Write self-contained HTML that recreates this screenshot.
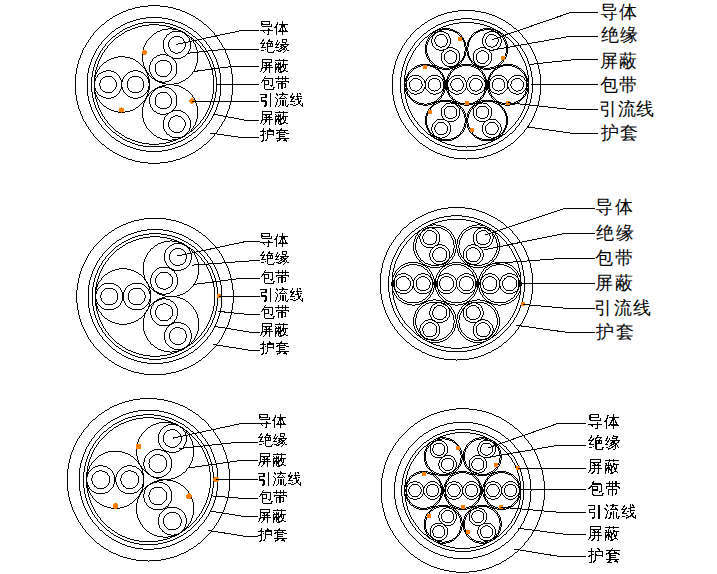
<!DOCTYPE html>
<html><head><meta charset="utf-8"><style>
html,body{margin:0;padding:0;background:#fff;width:717px;height:574px;overflow:hidden}
svg{position:absolute;left:0;top:0}
.t{position:absolute;font-family:"Liberation Sans",sans-serif;line-height:20px;white-space:nowrap;color:#000}
.b{filter:url(#crisp)}

</style></head><body>
<svg width="717" height="574" viewBox="0 0 717 574">
<defs><filter id="crisp" x="0" y="0" width="100%" height="100%"><feComponentTransfer><feFuncA type="discrete" tableValues="0 0 0 0 0 0 0 0 0 1 1 1 1 1 1 1 1 1 1 1"/></feComponentTransfer></filter></defs>
<g fill="none" stroke="#000" stroke-width="1" shape-rendering="crispEdges">
<path fill="none" stroke="#000" stroke-width="1" d="M148 5.5h12m-20 1h8m12 0h8m-33 1h5m28 0h5m-41 1h3m38 0h3m-48 1h4m44 0h4m-54 1h2m52 0h2m276 0h17m-352 1h3m56 0h3m267 0h6m17 0h6m-360 1h2m62 0h2m260 0h5m29 0h5m-367 1h2m66 0h2m255 0h3m39 0h3m-372 1h2m70 0h2m250 0h3m45 0h3m-377 1h2m74 0h2m245 0h3m51 0h3m-382 1h2m78 0h2m241 0h2m57 0h2m-385 1h1m33 0h16m33 0h1m238 0h2m61 0h2m-389 1h2m28 0h6m16 0h6m28 0h2m234 0h2m27 0h11m27 0h2m-392 1h1m26 0h4m28 0h4m26 0h1m231 0h2m22 0h7m11 0h7m22 0h2m-396 1h2m24 0h3m36 0h3m24 0h2m227 0h2m19 0h5m25 0h5m19 0h2m-399 1h1m23 0h3m42 0h3m23 0h1m225 0h1m18 0h3m35 0h3m18 0h1m-401 1h1m21 0h3m13 0h22m13 0h3m21 0h1m222 0h2m16 0h3m13 0h15m13 0h3m16 0h2m-404 1h1m20 0h2m11 0h5m22 0h5m11 0h2m20 0h1m220 0h1m16 0h2m10 0h6m15 0h6m10 0h2m16 0h1m-407 1h2m19 0h2m10 0h3m11 0h10m11 0h3m10 0h2m19 0h2m216 0h2m14 0h3m8 0h4m27 0h4m8 0h3m14 0h2m-410 1h1m19 0h2m9 0h3m7 0h7m10 0h7m7 0h3m9 0h2m19 0h1m214 0h1m14 0h2m8 0h3m35 0h3m8 0h2m14 0h1m-412 1h1m19 0h1m9 0h2m6 0h4m24 0h4m6 0h2m9 0h1m19 0h1m212 0h1m14 0h1m7 0h3m41 0h3m7 0h1m14 0h1m-414 1h1m18 0h2m7 0h3m5 0h3m32 0h3m5 0h3m7 0h2m18 0h1m210 0h1m13 0h2m6 0h2m47 0h2m6 0h2m13 0h1m-416 1h1m17 0h2m7 0h2m5 0h3m33 0h4m1 0h3m5 0h2m7 0h2m17 0h1m207 0h2m12 0h2m6 0h2m1 0h8m33 0h8m1 0h2m6 0h2m12 0h2m-419 1h1m17 0h1m7 0h2m5 0h2m30 0h6m4 0h6m5 0h2m7 0h1m17 0h1m205 0h1m13 0h1m6 0h12m1 0h3m27 0h3m1 0h12m6 0h1m13 0h1m-421 1h1m17 0h1m7 0h1m4 0h3m30 0h2m16 0h3m4 0h1m7 0h1m17 0h1m203 0h1m12 0h2m5 0h3m1 0h3m7 0h6m23 0h6m7 0h3m1 0h3m5 0h2m12 0h1m-423 1h1m16 0h2m6 0h2m3 0h2m30 0h3m12 0h11m3 0h2m6 0h2m16 0h1m201 0h1m12 0h1m5 0h3m1 0h7m9 0h4m19 0h4m9 0h7m1 0h3m5 0h1m12 0h1m-425 1h1m16 0h1m7 0h1m4 0h1m31 0h1m13 0h2m10 0h3m3 0h1m7 0h1m16 0h1m199 0h1m12 0h1m5 0h6m6 0h2m9 0h4m15 0h4m9 0h2m6 0h6m5 0h1m12 0h1m-427 1h1m16 0h1m6 0h2m3 0h2m30 0h2m13 0h1m14 0h2m3 0h2m6 0h1m16 0h1m197 0h1m11 0h2m4 0h3m1 0h2m10 0h2m9 0h1m1 0h1m13 0h1m1 0h1m9 0h2m10 0h2m1 0h3m4 0h2m11 0h1m-428 1h1m15 0h1m6 0h1m4 0h1m31 0h1m13 0h2m16 0h2m4 0h1m6 0h1m15 0h1m196 0h1m11 0h1m5 0h1m1 0h1m1 0h2m4 0h5m4 0h1m9 0h1m1 0h1m11 0h1m1 0h1m9 0h1m4 0h5m4 0h2m1 0h1m1 0h1m5 0h1m11 0h1m-430 1h1m15 0h1m6 0h1m3 0h2m31 0h1m13 0h1m19 0h3m3 0h1m6 0h1m15 0h1m194 0h1m11 0h1m5 0h1m1 0h1m1 0h2m3 0h2m5 0h1m3 0h1m10 0h1m1 0h1m9 0h1m1 0h1m10 0h1m3 0h1m5 0h2m3 0h2m1 0h1m1 0h1m5 0h1m11 0h1m-432 1h1m15 0h1m5 0h2m3 0h1m32 0h1m14 0h1m7 0h6m7 0h1m1 0h1m3 0h2m5 0h1m15 0h1m193 0h1m10 0h1m5 0h1m1 0h1m1 0h2m3 0h1m8 0h1m3 0h1m10 0h2m9 0h2m10 0h1m3 0h1m8 0h1m3 0h2m1 0h1m1 0h1m5 0h1m10 0h1m-433 1h1m15 0h1m5 0h1m3 0h2m32 0h1m14 0h1m6 0h2m6 0h2m6 0h1m1 0h2m3 0h1m5 0h1m15 0h1m191 0h1m10 0h1m4 0h2m1 0h1m1 0h1m1 0h1m2 0h1m10 0h1m2 0h1m11 0h2m7 0h2m11 0h1m2 0h1m10 0h1m2 0h1m1 0h1m1 0h1m1 0h2m4 0h1m10 0h1m-434 1h1m14 0h1m5 0h1m3 0h1m33 0h1m14 0h1m6 0h1m10 0h1m6 0h1m1 0h2m3 0h1m5 0h1m14 0h1m190 0h1m10 0h1m4 0h1m3 0h2m2 0h1m2 0h1m10 0h1m3 0h1m11 0h2m5 0h2m11 0h1m3 0h1m10 0h1m2 0h1m2 0h2m3 0h1m4 0h1m10 0h1m-436 1h1m14 0h1m5 0h1m3 0h1m33 0h1m15 0h1m5 0h1m12 0h1m5 0h1m1 0h1m1 0h1m3 0h1m5 0h1m14 0h1m188 0h1m10 0h1m4 0h1m3 0h1m1 0h1m1 0h1m2 0h1m12 0h1m2 0h1m11 0h2m5 0h2m11 0h1m2 0h1m12 0h1m2 0h1m1 0h1m1 0h1m3 0h1m4 0h1m10 0h1m-438 1h1m14 0h1m5 0h1m3 0h1m33 0h1m15 0h1m5 0h1m13 0h1m5 0h1m2 0h1m1 0h1m3 0h1m5 0h1m14 0h1m186 0h1m10 0h1m4 0h1m4 0h2m2 0h1m2 0h1m12 0h1m2 0h1m12 0h2m3 0h2m12 0h1m2 0h1m12 0h1m2 0h1m2 0h2m4 0h1m4 0h1m10 0h1m-439 1h1m13 0h1m5 0h1m3 0h1m33 0h1m16 0h1m5 0h1m14 0h1m5 0h1m2 0h1m1 0h1m3 0h1m5 0h1m13 0h1m186 0h1m9 0h1m4 0h1m4 0h1m1 0h1m2 0h1m2 0h1m12 0h1m2 0h1m12 0h2m3 0h2m12 0h1m2 0h1m12 0h1m2 0h1m2 0h1m1 0h1m4 0h1m4 0h1m9 0h1m-440 1h1m13 0h1m5 0h1m3 0h1m34 0h1m16 0h1m4 0h1m15 0h1m5 0h1m2 0h1m2 0h1m3 0h1m5 0h1m13 0h1m184 0h1m9 0h1m4 0h1m5 0h2m3 0h1m3 0h1m11 0h1m2 0h1m13 0h2m1 0h2m13 0h1m2 0h1m11 0h1m3 0h1m3 0h2m5 0h1m4 0h1m9 0h1m-442 1h1m14 0h1m4 0h1m3 0h1m34 0h1m17 0h1m4 0h1m16 0h1m4 0h1m3 0h1m2 0h1m3 0h1m4 0h1m14 0h1m182 0h1m9 0h1m4 0h1m6 0h2m4 0h1m2 0h1m10 0h1m3 0h1m13 0h2m1 0h2m13 0h1m3 0h1m10 0h1m2 0h1m4 0h2m6 0h1m4 0h1m9 0h1m-443 1h1m13 0h1m4 0h1m3 0h1m35 0h1m17 0h1m4 0h1m16 0h1m4 0h1m4 0h1m2 0h1m3 0h1m4 0h1m13 0h1m182 0h1m9 0h1m4 0h1m5 0h1m1 0h1m4 0h1m3 0h1m9 0h1m2 0h1m14 0h2m1 0h2m14 0h1m2 0h1m9 0h1m3 0h1m4 0h1m1 0h1m5 0h1m4 0h1m9 0h1m-444 1h1m13 0h1m5 0h1m2 0h1m35 0h1m18 0h1m4 0h1m16 0h1m4 0h1m4 0h1m3 0h1m2 0h1m5 0h1m13 0h1m180 0h1m9 0h1m4 0h1m6 0h2m5 0h1m3 0h2m7 0h1m3 0h1m14 0h2m1 0h2m14 0h1m3 0h1m7 0h2m3 0h1m5 0h2m6 0h1m4 0h1m9 0h1m-445 1h1m12 0h1m5 0h1m2 0h1m36 0h1m18 0h1m4 0h1m16 0h1m4 0h1m4 0h1m4 0h1m2 0h1m5 0h1m12 0h1m179 0h1m9 0h1m4 0h1m7 0h2m6 0h1m4 0h2m2 0h3m3 0h1m15 0h1m1 0h1m1 0h1m15 0h1m3 0h3m2 0h2m4 0h1m6 0h2m7 0h1m4 0h1m9 0h1m-447 1h1m13 0h1m4 0h1m3 0h1m35 0h1m19 0h1m5 0h1m14 0h1m5 0h1m5 0h1m3 0h1m3 0h1m4 0h1m13 0h1m178 0h1m9 0h1m3 0h1m8 0h2m7 0h1m5 0h2m5 0h6m12 0h3m12 0h6m5 0h2m5 0h1m7 0h2m8 0h1m3 0h1m9 0h1m-448 1h1m13 0h1m4 0h1m3 0h1m36 0h1m19 0h1m5 0h1m14 0h1m5 0h1m5 0h1m4 0h1m3 0h1m4 0h1m13 0h1m176 0h1m9 0h1m3 0h1m9 0h2m8 0h1m10 0h2m5 0h2m10 0h3m10 0h2m5 0h2m10 0h1m8 0h2m9 0h1m3 0h1m9 0h1m-449 1h1m12 0h1m5 0h1m2 0h1m37 0h1m20 0h1m5 0h1m12 0h1m5 0h1m6 0h1m5 0h1m2 0h1m5 0h1m12 0h1m176 0h1m8 0h1m4 0h1m9 0h2m9 0h3m4 0h3m9 0h2m8 0h3m8 0h2m9 0h3m4 0h3m9 0h2m9 0h1m4 0h1m8 0h1m-450 1h1m13 0h1m4 0h1m2 0h1m38 0h1m20 0h1m5 0h1m11 0h1m6 0h1m7 0h1m5 0h1m2 0h1m4 0h1m13 0h1m174 0h1m9 0h1m3 0h1m10 0h2m12 0h5m5 0h3m5 0h1m7 0h3m7 0h1m5 0h3m5 0h5m12 0h2m10 0h1m3 0h1m9 0h1m-451 1h1m12 0h1m4 0h1m3 0h1m37 0h1m21 0h1m6 0h2m8 0h1m6 0h1m8 0h1m5 0h1m3 0h1m4 0h1m12 0h1m174 0h1m8 0h1m3 0h1m11 0h2m16 0h1m3 0h2m3 0h2m4 0h1m5 0h1m1 0h1m1 0h1m5 0h1m4 0h2m3 0h2m3 0h1m16 0h2m11 0h1m3 0h1m8 0h1m-451 1h1m12 0h1m4 0h1m2 0h1m38 0h1m22 0h1m7 0h2m3 0h3m7 0h1m8 0h1m6 0h1m2 0h1m4 0h1m12 0h1m173 0h1m8 0h1m4 0h1m11 0h2m15 0h1m3 0h1m7 0h1m3 0h1m5 0h2m1 0h2m5 0h1m3 0h1m7 0h1m3 0h1m15 0h2m11 0h1m4 0h1m8 0h1m-453 1h1m12 0h1m4 0h1m2 0h1m39 0h1m23 0h1m8 0h3m9 0h1m9 0h1m7 0h1m2 0h1m4 0h1m12 0h1m172 0h1m8 0h1m3 0h1m12 0h1m1 0h1m13 0h1m3 0h1m9 0h1m3 0h1m4 0h2m1 0h2m4 0h1m3 0h1m9 0h1m3 0h1m13 0h1m1 0h1m12 0h1m3 0h1m8 0h1m-453 1h1m12 0h1m4 0h1m2 0h1m39 0h1m17 0h6m1 0h1m18 0h1m10 0h1m7 0h1m2 0h1m4 0h1m12 0h1m171 0h1m8 0h1m4 0h1m13 0h2m13 0h1m2 0h1m11 0h1m2 0h1m4 0h2m1 0h2m4 0h1m2 0h1m11 0h1m2 0h1m13 0h2m13 0h1m4 0h1m8 0h1m-455 1h1m12 0h1m4 0h1m2 0h1m40 0h1m14 0h3m6 0h3m16 0h1m11 0h1m8 0h1m2 0h1m4 0h1m12 0h1m170 0h1m8 0h1m3 0h1m14 0h2m13 0h1m2 0h1m11 0h1m2 0h1m4 0h2m1 0h2m4 0h1m2 0h1m11 0h1m2 0h1m13 0h2m14 0h1m3 0h1m8 0h1m-455 1h1m12 0h1m4 0h1m2 0h1m16 0h7m17 0h1m13 0h1m12 0h2m12 0h2m12 0h1m8 0h1m2 0h1m4 0h1m12 0h1m169 0h1m8 0h1m4 0h1m14 0h1m1 0h1m12 0h1m2 0h1m11 0h1m2 0h1m3 0h2m3 0h2m3 0h1m2 0h1m11 0h1m2 0h1m12 0h1m1 0h1m14 0h1m4 0h1m8 0h1m-456 1h1m11 0h1m4 0h1m2 0h1m13 0h4m7 0h5m12 0h1m11 0h2m15 0h2m8 0h2m14 0h1m9 0h1m2 0h1m4 0h1m11 0h1m169 0h1m8 0h1m3 0h1m16 0h2m12 0h1m2 0h1m11 0h1m2 0h1m3 0h2m3 0h2m3 0h1m2 0h1m11 0h1m2 0h1m12 0h2m16 0h1m3 0h1m8 0h1m-457 1h1m12 0h1m4 0h1m2 0h1m10 0h3m16 0h3m9 0h1m10 0h1m18 0h9m16 0h1m9 0h1m2 0h1m4 0h1m12 0h1m168 0h1m7 0h1m4 0h1m16 0h1m1 0h1m11 0h1m2 0h1m11 0h1m2 0h1m2 0h2m5 0h2m2 0h1m2 0h1m11 0h1m2 0h1m11 0h1m1 0h1m16 0h1m4 0h1m7 0h1m-457 1h1m11 0h1m4 0h1m2 0h1m9 0h2m22 0h2m7 0h1m9 0h1m20 0h1m23 0h1m10 0h1m2 0h1m4 0h1m11 0h1m167 0h1m8 0h1m3 0h1m18 0h2m11 0h1m2 0h1m11 0h1m2 0h1m2 0h2m5 0h2m2 0h1m2 0h1m11 0h1m2 0h1m11 0h2m18 0h1m3 0h1m8 0h1m-459 1h1m12 0h1m4 0h1m2 0h1m7 0h2m26 0h1m6 0h1m9 0h1m7 0h7m7 0h1m22 0h1m10 0h1m2 0h1m4 0h1m12 0h1m166 0h1m8 0h1m3 0h1m19 0h2m10 0h1m3 0h1m9 0h1m3 0h1m1 0h2m7 0h2m1 0h1m3 0h1m9 0h1m3 0h1m10 0h2m19 0h1m3 0h1m8 0h1m-459 1h1m12 0h1m3 0h1m2 0h1m7 0h1m29 0h2m4 0h1m8 0h1m6 0h2m7 0h2m6 0h1m21 0h1m11 0h1m2 0h1m3 0h1m12 0h1m165 0h1m8 0h1m3 0h1m20 0h1m1 0h1m10 0h1m3 0h1m8 0h1m2 0h1m1 0h2m9 0h2m1 0h1m2 0h1m8 0h1m3 0h1m10 0h1m1 0h1m20 0h1m3 0h1m8 0h1m-460 1h1m11 0h1m4 0h1m2 0h1m5 0h2m32 0h1m4 0h1m6 0h1m6 0h1m11 0h1m5 0h1m21 0h1m11 0h1m2 0h1m4 0h1m11 0h1m165 0h1m8 0h1m3 0h1m21 0h1m1 0h1m9 0h1m4 0h1m5 0h2m3 0h2m1 0h1m9 0h1m1 0h2m3 0h2m5 0h1m4 0h1m9 0h1m1 0h1m21 0h1m3 0h1m8 0h1m-460 1h1m11 0h1m4 0h1m2 0h1m4 0h1m35 0h1m3 0h1m6 0h1m5 0h1m13 0h1m5 0h1m19 0h1m12 0h1m2 0h1m4 0h1m11 0h1m165 0h1m8 0h1m2 0h1m23 0h1m1 0h1m9 0h1m4 0h5m4 0h2m1 0h1m11 0h1m1 0h2m4 0h5m4 0h1m9 0h1m1 0h1m23 0h1m2 0h1m8 0h1m-461 1h1m12 0h1m3 0h1m2 0h1m4 0h1m37 0h1m2 0h1m6 0h1m4 0h1m14 0h1m5 0h1m19 0h1m13 0h1m2 0h1m3 0h1m12 0h1m164 0h1m7 0h1m3 0h1m12 0h10m2 0h1m1 0h1m9 0h1m11 0h4m1 0h11m1 0h4m11 0h1m9 0h1m1 0h1m2 0h10m12 0h1m3 0h1m7 0h1m-461 1h1m11 0h1m4 0h1m2 0h1m3 0h1m39 0h1m1 0h1m5 0h1m5 0h1m15 0h1m4 0h1m19 0h1m13 0h1m2 0h1m4 0h1m11 0h1m163 0h1m8 0h1m3 0h1m9 0h3m1 0h16m8 0h2m7 0h7m1 0h9m1 0h7m7 0h2m8 0h16m1 0h3m9 0h1m3 0h1m8 0h1m-462 1h1m11 0h1m4 0h1m2 0h1m2 0h1m41 0h1m1 0h1m4 0h1m5 0h1m15 0h1m4 0h1m18 0h1m14 0h1m2 0h1m4 0h1m11 0h1m163 0h1m8 0h1m2 0h1m8 0h2m1 0h3m9 0h6m1 0h2m8 0h11m1 0h3m9 0h3m1 0h11m8 0h2m1 0h6m9 0h3m1 0h2m8 0h1m2 0h1m8 0h1m-462 1h1m11 0h1m3 0h1m2 0h1m2 0h1m43 0h2m4 0h1m5 0h1m15 0h1m4 0h1m18 0h1m15 0h1m2 0h1m3 0h1m11 0h1m163 0h1m7 0h1m3 0h1m7 0h1m1 0h2m15 0h5m1 0h4m6 0h7m1 0h2m15 0h2m1 0h7m6 0h4m1 0h5m15 0h2m1 0h1m7 0h1m3 0h1m7 0h1m-463 1h1m11 0h1m4 0h1m2 0h1m2 0h1m44 0h2m3 0h1m5 0h1m15 0h1m4 0h1m18 0h1m15 0h1m2 0h1m4 0h1m11 0h1m162 0h1m7 0h1m3 0h1m5 0h4m19 0h1m1 0h5m1 0h6m1 0h3m1 0h3m19 0h3m1 0h3m1 0h6m1 0h5m1 0h1m19 0h4m5 0h1m3 0h1m7 0h1m-463 1h1m11 0h1m4 0h1m2 0h1m1 0h1m46 0h1m3 0h1m5 0h1m15 0h1m4 0h1m17 0h1m16 0h1m2 0h1m4 0h1m11 0h1m161 0h1m8 0h1m3 0h1m4 0h1m1 0h1m22 0h3m3 0h8m2 0h3m23 0h3m2 0h8m3 0h3m22 0h1m1 0h1m4 0h1m3 0h1m8 0h1m-464 1h1m11 0h1m4 0h1m1 0h1m1 0h1m8 0h5m22 0h5m7 0h2m2 0h1m5 0h1m15 0h1m4 0h1m17 0h1m17 0h1m1 0h1m4 0h1m11 0h1m161 0h1m8 0h1m2 0h1m4 0h1m1 0h1m25 0h2m11 0h1m1 0h1m25 0h1m1 0h1m11 0h2m25 0h1m1 0h1m4 0h1m2 0h1m8 0h1m-464 1h1m11 0h1m3 0h1m2 0h1m1 0h1m5 0h3m5 0h3m16 0h3m5 0h3m5 0h1m2 0h1m5 0h1m14 0h1m5 0h1m16 0h1m18 0h1m2 0h1m3 0h1m11 0h1m161 0h1m7 0h1m3 0h1m3 0h1m1 0h1m27 0h2m9 0h1m1 0h1m27 0h1m1 0h1m9 0h2m27 0h1m1 0h1m3 0h1m3 0h1m7 0h1m-464 1h1m11 0h1m3 0h1m2 0h2m4 0h2m11 0h2m12 0h2m11 0h2m3 0h2m2 0h1m5 0h1m13 0h1m5 0h1m15 0h1m19 0h1m2 0h1m3 0h1m11 0h1m161 0h1m7 0h1m3 0h1m2 0h1m1 0h1m29 0h2m8 0h2m29 0h2m8 0h2m29 0h1m1 0h1m2 0h1m3 0h1m7 0h1m-464 1h1m10 0h1m4 0h1m2 0h2m2 0h2m15 0h1m10 0h1m15 0h1m3 0h2m1 0h1m5 0h1m12 0h1m6 0h1m15 0h1m19 0h1m2 0h1m4 0h1m10 0h1m161 0h1m7 0h1m3 0h1m2 0h2m30 0h1m1 0h1m6 0h2m31 0h2m6 0h1m1 0h1m30 0h2m2 0h1m3 0h1m7 0h1m-465 1h1m11 0h1m4 0h1m2 0h1m2 0h1m18 0h1m8 0h1m17 0h1m2 0h2m2 0h1m5 0h1m10 0h1m6 0h1m15 0h1m20 0h1m2 0h1m4 0h1m11 0h1m159 0h1m8 0h1m3 0h1m1 0h2m32 0h2m5 0h1m1 0h1m31 0h1m1 0h1m5 0h2m32 0h2m1 0h1m3 0h1m8 0h1m-466 1h1m11 0h1m4 0h1m1 0h2m1 0h1m20 0h1m6 0h1m19 0h1m1 0h1m1 0h1m1 0h1m6 0h2m7 0h1m7 0h1m14 0h1m22 0h1m1 0h1m4 0h1m11 0h1m159 0h1m8 0h1m2 0h1m2 0h2m3 0h7m12 0h7m4 0h2m4 0h2m4 0h7m11 0h7m4 0h2m4 0h2m4 0h7m12 0h7m3 0h2m2 0h1m2 0h1m8 0h1m-466 1h1m11 0h1m4 0h1m1 0h2m1 0h1m7 0h7m7 0h1m4 0h1m7 0h7m7 0h1m1 0h1m1 0h1m1 0h1m7 0h7m7 0h1m14 0h1m23 0h1m1 0h1m4 0h1m11 0h1m159 0h1m8 0h1m2 0h1m1 0h2m2 0h2m7 0h2m8 0h2m7 0h2m2 0h2m3 0h1m1 0h1m2 0h2m7 0h1m9 0h1m7 0h2m2 0h1m1 0h1m3 0h2m2 0h2m7 0h2m8 0h2m7 0h2m2 0h2m1 0h1m2 0h1m8 0h1m-466 1h1m11 0h1m3 0h1m2 0h1m1 0h1m6 0h2m7 0h1m6 0h1m3 0h1m6 0h2m7 0h2m6 0h2m2 0h1m1 0h1m19 0h1m14 0h1m24 0h1m2 0h1m3 0h1m11 0h1m159 0h1m7 0h1m3 0h1m1 0h2m1 0h1m11 0h1m6 0h1m11 0h1m2 0h2m2 0h2m2 0h1m10 0h2m5 0h2m10 0h1m2 0h2m2 0h2m2 0h1m11 0h1m6 0h1m11 0h1m1 0h2m1 0h1m3 0h1m7 0h1m-466 1h1m11 0h1m3 0h1m2 0h2m6 0h1m10 0h1m6 0h1m2 0h1m5 0h1m11 0h1m5 0h2m3 0h3m17 0h1m13 0h2m25 0h1m2 0h1m3 0h1m11 0h1m159 0h1m7 0h1m3 0h3m1 0h1m4 0h5m4 0h1m4 0h1m4 0h5m4 0h1m1 0h2m2 0h2m1 0h1m4 0h5m4 0h1m3 0h1m4 0h5m4 0h1m1 0h2m2 0h2m1 0h1m4 0h5m4 0h1m4 0h1m4 0h5m4 0h1m1 0h3m3 0h1m7 0h1m-466 1h1m11 0h1m3 0h1m2 0h2m5 0h1m12 0h1m5 0h1m1 0h1m5 0h1m13 0h1m5 0h2m4 0h2m15 0h1m13 0h1m27 0h1m2 0h1m3 0h1m11 0h1m159 0h1m7 0h1m3 0h3m1 0h1m3 0h1m5 0h2m3 0h1m2 0h1m3 0h2m5 0h2m3 0h3m1 0h2m1 0h1m3 0h2m5 0h1m3 0h1m3 0h1m3 0h1m5 0h2m3 0h1m1 0h2m1 0h3m3 0h2m5 0h2m3 0h1m2 0h1m3 0h2m5 0h1m3 0h1m1 0h3m3 0h1m7 0h1m-466 1h1m11 0h1m3 0h1m2 0h2m4 0h1m14 0h1m5 0h2m5 0h1m13 0h1m5 0h2m5 0h3m11 0h2m12 0h2m28 0h1m2 0h1m3 0h1m11 0h1m159 0h1m7 0h1m3 0h4m3 0h1m8 0h1m3 0h1m1 0h1m2 0h1m9 0h1m2 0h1m1 0h5m3 0h1m8 0h1m3 0h1m1 0h1m3 0h1m8 0h1m3 0h5m1 0h1m2 0h1m9 0h1m2 0h1m1 0h1m3 0h1m8 0h1m3 0h4m3 0h1m7 0h1m-466 1h1m11 0h1m3 0h1m2 0h1m5 0h1m14 0h1m5 0h2m4 0h1m15 0h1m4 0h2m7 0h5m3 0h4m12 0h2m30 0h1m2 0h1m3 0h1m11 0h1m159 0h1m7 0h1m3 0h3m3 0h1m10 0h1m2 0h2m3 0h1m9 0h1m3 0h6m2 0h1m10 0h1m2 0h1m1 0h1m2 0h1m10 0h1m2 0h6m3 0h1m9 0h1m3 0h2m2 0h1m10 0h1m3 0h3m3 0h1m7 0h1m-466 1h1m11 0h1m3 0h1m2 0h1m5 0h1m15 0h1m4 0h1m5 0h1m15 0h1m4 0h2m9 0h6m14 0h2m32 0h1m2 0h1m3 0h1m11 0h1m159 0h1m7 0h1m3 0h1m1 0h1m2 0h1m11 0h1m2 0h2m2 0h1m11 0h1m2 0h5m3 0h1m10 0h1m3 0h1m3 0h1m10 0h1m3 0h5m2 0h1m11 0h1m2 0h2m2 0h1m11 0h1m2 0h1m1 0h1m3 0h1m7 0h1m-466 1h1m11 0h1m3 0h1m2 0h1m4 0h1m16 0h1m4 0h1m5 0h1m15 0h1m5 0h1m12 0h4m8 0h5m34 0h1m2 0h1m3 0h1m11 0h1m159 0h1m7 0h1m3 0h3m2 0h1m11 0h1m3 0h1m2 0h1m11 0h1m2 0h5m2 0h1m12 0h1m2 0h1m2 0h1m12 0h1m2 0h5m2 0h1m11 0h1m2 0h1m3 0h1m11 0h1m2 0h3m3 0h1m7 0h1m-466 1h1m11 0h1m3 0h1m2 0h1m4 0h1m16 0h1m4 0h1m5 0h1m15 0h1m5 0h1m16 0h8m39 0h1m2 0h1m4 0h1m10 0h1m159 0h1m7 0h1m3 0h3m2 0h1m12 0h1m2 0h1m2 0h1m11 0h1m2 0h5m2 0h1m12 0h1m2 0h1m2 0h1m12 0h1m2 0h5m2 0h1m11 0h1m2 0h1m2 0h1m12 0h1m2 0h3m3 0h1m7 0h1m-466 1h1m11 0h1m3 0h1m2 0h1m4 0h1m16 0h1m4 0h1m5 0h1m15 0h1m5 0h1m12 0h4m8 0h5m34 0h1m2 0h1m3 0h1m11 0h1m159 0h1m7 0h1m3 0h3m2 0h1m12 0h1m2 0h1m2 0h1m11 0h1m2 0h5m2 0h1m12 0h1m2 0h1m2 0h1m12 0h1m2 0h5m2 0h1m11 0h1m2 0h1m2 0h1m12 0h1m2 0h3m3 0h1m7 0h1m-466 1h1m11 0h1m3 0h1m2 0h1m5 0h1m15 0h1m4 0h1m5 0h1m15 0h1m4 0h2m9 0h6m14 0h2m32 0h1m2 0h1m3 0h1m11 0h1m159 0h1m7 0h1m3 0h3m2 0h1m11 0h1m3 0h1m2 0h1m11 0h1m2 0h5m3 0h1m11 0h1m2 0h1m2 0h1m11 0h1m3 0h5m2 0h1m11 0h1m2 0h1m3 0h1m11 0h1m2 0h3m3 0h1m7 0h1m-466 1h1m11 0h1m3 0h1m2 0h1m5 0h1m14 0h1m5 0h2m4 0h1m15 0h1m4 0h2m7 0h5m3 0h4m12 0h2m30 0h1m2 0h1m3 0h1m11 0h1m159 0h1m7 0h1m3 0h1m1 0h1m3 0h1m10 0h1m2 0h2m2 0h1m11 0h1m2 0h6m2 0h1m10 0h1m3 0h1m3 0h1m10 0h1m2 0h6m2 0h1m11 0h1m2 0h2m2 0h1m10 0h1m3 0h1m1 0h1m3 0h1m7 0h1m-466 1h1m11 0h1m3 0h1m2 0h2m4 0h1m14 0h1m5 0h2m5 0h1m13 0h1m5 0h2m5 0h3m11 0h2m12 0h2m28 0h1m2 0h1m3 0h1m11 0h1m159 0h1m7 0h1m3 0h4m2 0h1m9 0h1m3 0h2m3 0h1m9 0h1m3 0h6m3 0h1m9 0h1m2 0h1m1 0h1m2 0h1m9 0h1m3 0h6m3 0h1m9 0h1m3 0h2m3 0h1m9 0h1m2 0h4m3 0h1m7 0h1m-466 1h1m11 0h1m3 0h1m2 0h2m5 0h1m12 0h1m5 0h1m1 0h1m5 0h1m13 0h1m5 0h2m4 0h2m15 0h1m13 0h1m27 0h1m2 0h1m3 0h1m11 0h1m159 0h1m7 0h1m3 0h4m3 0h1m7 0h1m3 0h1m2 0h1m3 0h1m7 0h1m3 0h2m1 0h4m3 0h2m7 0h1m3 0h1m1 0h1m3 0h1m7 0h2m3 0h4m1 0h2m3 0h1m7 0h1m3 0h1m2 0h1m3 0h1m7 0h1m3 0h4m3 0h1m7 0h1m-466 1h1m11 0h1m3 0h1m2 0h2m6 0h1m10 0h1m6 0h1m2 0h1m5 0h1m11 0h1m5 0h2m3 0h3m17 0h1m13 0h2m25 0h1m2 0h1m3 0h1m11 0h1m159 0h1m7 0h1m3 0h3m1 0h1m3 0h3m2 0h2m4 0h1m3 0h1m3 0h3m1 0h3m4 0h3m1 0h1m1 0h2m4 0h2m2 0h3m3 0h1m3 0h1m3 0h3m2 0h2m4 0h2m1 0h1m1 0h3m4 0h3m1 0h3m3 0h1m3 0h1m4 0h2m2 0h3m3 0h1m1 0h3m3 0h1m7 0h1m-466 1h1m11 0h1m3 0h1m2 0h1m1 0h1m6 0h2m7 0h1m6 0h1m3 0h1m6 0h2m7 0h2m6 0h2m2 0h1m1 0h1m19 0h1m14 0h1m24 0h1m2 0h1m3 0h1m11 0h1m159 0h1m7 0h1m3 0h2m1 0h1m1 0h1m5 0h2m5 0h1m5 0h1m5 0h1m6 0h1m1 0h2m2 0h2m1 0h1m5 0h2m5 0h1m5 0h1m5 0h2m5 0h1m1 0h2m2 0h2m1 0h1m6 0h1m5 0h1m5 0h1m5 0h2m5 0h1m1 0h1m1 0h2m3 0h1m7 0h1m-466 1h1m11 0h1m4 0h1m1 0h2m1 0h1m7 0h7m7 0h1m4 0h1m7 0h7m7 0h1m1 0h1m1 0h1m1 0h1m7 0h7m7 0h1m14 0h1m23 0h1m1 0h1m4 0h1m11 0h1m159 0h1m7 0h1m3 0h1m1 0h2m2 0h1m9 0h2m7 0h1m9 0h2m1 0h1m1 0h1m2 0h2m2 0h2m9 0h1m7 0h1m9 0h2m2 0h2m2 0h1m1 0h1m1 0h2m9 0h1m7 0h2m9 0h1m2 0h2m1 0h1m3 0h1m7 0h1m-466 1h1m11 0h1m4 0h1m1 0h2m1 0h1m20 0h1m6 0h1m19 0h1m1 0h1m1 0h1m1 0h1m6 0h2m7 0h1m7 0h1m14 0h1m22 0h1m1 0h1m4 0h1m11 0h1m159 0h1m8 0h1m2 0h1m1 0h2m3 0h3m3 0h3m10 0h3m3 0h3m3 0h2m4 0h2m3 0h2m4 0h3m9 0h3m4 0h2m3 0h2m4 0h2m3 0h3m3 0h3m10 0h3m3 0h3m3 0h2m1 0h1m2 0h1m8 0h1m-466 1h1m11 0h1m4 0h1m2 0h1m2 0h1m18 0h1m8 0h1m17 0h1m2 0h2m2 0h1m5 0h1m10 0h1m6 0h1m15 0h1m20 0h1m2 0h1m4 0h1m11 0h1m159 0h1m8 0h1m3 0h1m1 0h2m5 0h3m16 0h3m5 0h1m1 0h1m4 0h2m5 0h4m15 0h4m5 0h2m4 0h1m1 0h1m5 0h3m16 0h3m5 0h2m1 0h1m3 0h1m8 0h1m-465 1h1m10 0h1m4 0h1m2 0h2m2 0h2m15 0h1m10 0h1m15 0h1m3 0h2m1 0h1m5 0h1m12 0h1m6 0h1m15 0h1m19 0h1m2 0h1m4 0h1m10 0h1m161 0h1m7 0h1m3 0h1m1 0h1m1 0h1m31 0h2m6 0h2m31 0h2m6 0h2m31 0h1m1 0h1m1 0h1m3 0h1m7 0h1m-464 1h1m11 0h1m3 0h1m2 0h2m4 0h2m11 0h2m12 0h2m11 0h2m3 0h2m2 0h1m5 0h1m13 0h1m5 0h1m15 0h1m19 0h1m2 0h1m3 0h1m11 0h1m161 0h1m7 0h1m3 0h1m2 0h2m30 0h2m7 0h1m1 0h1m29 0h1m1 0h1m7 0h2m30 0h2m2 0h1m3 0h1m7 0h1m-464 1h1m11 0h1m3 0h1m2 0h1m1 0h1m5 0h3m5 0h3m16 0h3m5 0h3m5 0h1m2 0h1m5 0h1m14 0h1m5 0h1m16 0h1m18 0h1m2 0h1m3 0h1m11 0h1m161 0h1m7 0h1m3 0h1m3 0h2m28 0h1m1 0h1m8 0h1m1 0h1m27 0h1m1 0h1m8 0h1m1 0h1m28 0h2m3 0h1m3 0h1m7 0h1m-464 1h1m11 0h1m4 0h1m1 0h1m1 0h1m8 0h5m22 0h5m7 0h2m2 0h1m5 0h1m15 0h1m4 0h1m17 0h1m17 0h1m1 0h1m4 0h1m11 0h1m161 0h1m7 0h1m3 0h1m4 0h2m26 0h1m1 0h1m10 0h2m27 0h2m10 0h1m1 0h1m26 0h2m4 0h1m3 0h1m7 0h1m-464 1h1m11 0h1m4 0h1m2 0h1m1 0h1m46 0h1m3 0h1m5 0h1m15 0h1m4 0h1m17 0h1m16 0h1m2 0h1m4 0h1m11 0h1m161 0h1m8 0h1m3 0h1m4 0h2m24 0h1m1 0h1m12 0h3m23 0h3m12 0h1m1 0h1m24 0h2m4 0h1m3 0h1m8 0h1m-464 1h1m11 0h1m4 0h1m2 0h1m2 0h1m44 0h2m3 0h1m5 0h1m15 0h1m4 0h1m18 0h1m15 0h1m2 0h1m4 0h1m11 0h1m161 0h1m8 0h1m3 0h1m5 0h3m21 0h1m1 0h1m1 0h12m1 0h1m1 0h1m21 0h1m1 0h1m1 0h12m1 0h1m1 0h1m21 0h3m5 0h1m3 0h1m8 0h1m-463 1h1m11 0h1m3 0h1m2 0h1m2 0h1m43 0h2m4 0h1m5 0h1m15 0h1m4 0h1m18 0h1m15 0h1m2 0h1m3 0h1m11 0h1m163 0h1m7 0h1m3 0h1m6 0h1m1 0h2m17 0h17m1 0h6m17 0h6m1 0h17m17 0h2m1 0h1m6 0h1m3 0h1m7 0h1m-462 1h1m11 0h1m4 0h1m2 0h1m2 0h1m41 0h1m1 0h1m4 0h1m5 0h1m15 0h1m4 0h1m18 0h1m14 0h1m2 0h1m4 0h1m11 0h1m163 0h1m7 0h1m3 0h1m7 0h2m1 0h2m12 0h6m1 0h2m10 0h7m1 0h2m13 0h2m1 0h7m10 0h2m1 0h6m12 0h2m1 0h2m7 0h1m3 0h1m7 0h1m-462 1h1m11 0h1m4 0h1m2 0h1m3 0h1m39 0h1m1 0h1m5 0h1m5 0h1m15 0h1m4 0h1m19 0h1m13 0h1m2 0h1m4 0h1m11 0h1m163 0h1m8 0h1m3 0h1m8 0h2m1 0h5m3 0h4m1 0h3m1 0h2m8 0h4m1 0h14m3 0h14m1 0h4m8 0h2m1 0h3m1 0h4m3 0h5m1 0h2m8 0h1m3 0h1m8 0h1m-462 1h1m12 0h1m3 0h1m2 0h1m4 0h1m37 0h1m2 0h1m6 0h1m4 0h1m14 0h1m5 0h1m19 0h1m13 0h1m2 0h1m3 0h1m12 0h1m163 0h1m8 0h1m3 0h1m10 0h5m1 0h3m1 0h4m1 0h3m9 0h1m9 0h2m1 0h1m1 0h4m1 0h3m1 0h4m1 0h1m1 0h2m9 0h1m9 0h3m1 0h4m1 0h3m1 0h5m10 0h1m3 0h1m8 0h1m-461 1h1m11 0h1m4 0h1m2 0h1m4 0h1m35 0h1m3 0h1m6 0h1m5 0h1m13 0h1m5 0h1m19 0h1m12 0h1m2 0h1m4 0h1m11 0h1m165 0h1m7 0h1m3 0h1m15 0h5m4 0h2m10 0h1m11 0h4m4 0h5m4 0h4m11 0h1m10 0h2m4 0h5m15 0h1m3 0h1m7 0h1m-460 1h1m11 0h1m4 0h1m2 0h1m5 0h2m32 0h1m4 0h1m6 0h1m6 0h1m11 0h1m5 0h1m21 0h1m11 0h1m2 0h1m4 0h1m11 0h1m165 0h1m8 0h1m3 0h1m22 0h2m10 0h1m3 0h7m3 0h1m1 0h2m11 0h2m1 0h1m3 0h7m3 0h1m10 0h2m22 0h1m3 0h1m8 0h1m-460 1h1m12 0h1m3 0h1m2 0h1m7 0h1m29 0h2m4 0h1m8 0h1m6 0h2m7 0h2m6 0h1m21 0h1m11 0h1m2 0h1m3 0h1m12 0h1m165 0h1m8 0h1m3 0h1m21 0h2m10 0h1m3 0h1m7 0h1m3 0h1m1 0h2m9 0h2m1 0h1m3 0h1m7 0h1m3 0h1m10 0h2m21 0h1m3 0h1m8 0h1m-460 1h1m12 0h1m4 0h1m2 0h1m7 0h2m26 0h1m6 0h1m9 0h1m7 0h7m7 0h1m22 0h1m10 0h1m2 0h1m4 0h1m12 0h1m166 0h1m7 0h1m3 0h1m20 0h2m10 0h1m3 0h1m9 0h1m3 0h2m1 0h1m7 0h1m1 0h2m3 0h1m9 0h1m3 0h1m10 0h2m20 0h1m3 0h1m7 0h1m-458 1h1m11 0h1m4 0h1m2 0h1m9 0h2m22 0h2m7 0h1m9 0h1m20 0h1m23 0h1m10 0h1m2 0h1m4 0h1m11 0h1m167 0h1m8 0h1m3 0h1m18 0h1m1 0h1m10 0h1m2 0h1m11 0h1m2 0h1m1 0h1m1 0h1m5 0h1m1 0h1m1 0h1m2 0h1m11 0h1m2 0h1m10 0h1m1 0h1m18 0h1m3 0h1m8 0h1m-458 1h1m12 0h1m4 0h1m2 0h1m10 0h3m16 0h3m9 0h1m10 0h1m18 0h9m16 0h1m9 0h1m2 0h1m4 0h1m12 0h1m167 0h1m8 0h1m3 0h1m18 0h2m11 0h1m2 0h1m11 0h1m2 0h1m2 0h2m5 0h2m2 0h1m2 0h1m11 0h1m2 0h1m11 0h2m18 0h1m3 0h1m8 0h1m-457 1h1m11 0h1m4 0h1m2 0h1m13 0h4m7 0h5m12 0h1m11 0h2m15 0h2m8 0h2m14 0h1m9 0h1m2 0h1m4 0h1m11 0h1m169 0h1m8 0h1m3 0h1m16 0h2m12 0h1m2 0h1m11 0h1m2 0h1m2 0h1m1 0h1m3 0h1m1 0h1m2 0h1m2 0h1m11 0h1m2 0h1m12 0h2m16 0h1m3 0h1m8 0h1m-456 1h1m12 0h1m4 0h1m2 0h1m16 0h7m17 0h1m13 0h1m12 0h2m12 0h2m12 0h1m8 0h1m2 0h1m4 0h1m12 0h1m169 0h1m8 0h1m3 0h1m16 0h2m12 0h1m2 0h1m11 0h1m2 0h1m3 0h2m3 0h2m3 0h1m2 0h1m11 0h1m2 0h1m12 0h2m16 0h1m3 0h1m8 0h1m-456 1h1m12 0h1m4 0h1m2 0h1m40 0h1m14 0h3m6 0h3m16 0h1m11 0h1m8 0h1m2 0h1m4 0h1m12 0h1m170 0h1m8 0h1m3 0h1m14 0h2m13 0h1m2 0h1m11 0h1m2 0h1m3 0h1m1 0h1m1 0h1m1 0h1m3 0h1m2 0h1m11 0h1m2 0h1m13 0h2m14 0h1m3 0h1m8 0h1m-454 1h1m12 0h1m4 0h1m2 0h1m39 0h1m17 0h6m1 0h1m18 0h1m10 0h1m7 0h1m2 0h1m4 0h1m12 0h1m171 0h1m8 0h1m3 0h1m14 0h2m13 0h1m2 0h1m11 0h1m2 0h1m4 0h2m1 0h2m4 0h1m2 0h1m11 0h1m2 0h1m13 0h2m14 0h1m3 0h1m8 0h1m-454 1h1m12 0h1m4 0h1m2 0h1m39 0h1m23 0h1m8 0h3m9 0h1m9 0h1m7 0h1m2 0h1m4 0h1m12 0h1m171 0h1m9 0h1m3 0h1m13 0h2m13 0h1m3 0h1m10 0h1m2 0h1m4 0h2m1 0h2m4 0h1m2 0h1m10 0h1m3 0h1m13 0h2m13 0h1m3 0h1m9 0h1m-453 1h1m12 0h1m4 0h1m2 0h1m38 0h1m22 0h1m7 0h2m3 0h3m7 0h1m8 0h1m6 0h1m2 0h1m4 0h1m12 0h1m173 0h1m8 0h1m3 0h1m12 0h2m15 0h1m2 0h1m9 0h1m2 0h1m5 0h2m1 0h2m5 0h1m2 0h1m9 0h1m2 0h1m15 0h2m12 0h1m3 0h1m8 0h1m-452 1h1m12 0h1m4 0h1m3 0h1m37 0h1m21 0h1m6 0h2m8 0h1m6 0h1m8 0h1m5 0h1m3 0h1m4 0h1m12 0h1m173 0h1m9 0h1m3 0h1m11 0h2m15 0h1m3 0h2m5 0h2m3 0h1m5 0h1m1 0h1m1 0h1m5 0h1m3 0h2m5 0h2m3 0h1m15 0h2m11 0h1m3 0h1m9 0h1m-452 1h1m13 0h1m4 0h1m2 0h1m38 0h1m20 0h1m5 0h1m11 0h1m6 0h1m7 0h1m5 0h1m2 0h1m4 0h1m13 0h1m174 0h1m8 0h1m4 0h1m10 0h2m16 0h1m4 0h5m4 0h1m7 0h3m7 0h1m4 0h5m4 0h1m16 0h2m10 0h1m4 0h1m8 0h1m-450 1h1m12 0h1m5 0h1m2 0h1m37 0h1m20 0h1m5 0h1m12 0h1m5 0h1m6 0h1m5 0h1m2 0h1m5 0h1m12 0h1m175 0h1m9 0h1m3 0h1m10 0h2m10 0h8m11 0h1m8 0h3m8 0h1m11 0h8m10 0h2m10 0h1m3 0h1m9 0h1m-450 1h1m13 0h1m4 0h1m3 0h1m36 0h1m19 0h1m5 0h1m14 0h1m5 0h1m5 0h1m4 0h1m3 0h1m4 0h1m13 0h1m176 0h1m9 0h1m3 0h1m9 0h2m9 0h1m8 0h2m7 0h2m9 0h3m9 0h2m7 0h2m8 0h1m9 0h2m9 0h1m3 0h1m9 0h1m-448 1h1m13 0h1m4 0h1m3 0h1m35 0h1m19 0h1m5 0h1m14 0h1m5 0h1m5 0h1m3 0h1m3 0h1m4 0h1m13 0h1m177 0h1m9 0h1m4 0h1m8 0h2m8 0h1m11 0h7m11 0h3m11 0h7m11 0h1m8 0h2m8 0h1m4 0h1m9 0h1m-447 1h1m12 0h1m5 0h1m2 0h1m36 0h1m18 0h1m4 0h1m16 0h1m4 0h1m4 0h1m4 0h1m2 0h1m5 0h1m12 0h1m179 0h1m9 0h1m4 0h1m7 0h2m7 0h1m3 0h6m4 0h1m16 0h3m16 0h1m4 0h6m3 0h1m7 0h2m7 0h1m4 0h1m9 0h1m-446 1h1m13 0h1m5 0h1m2 0h1m35 0h1m18 0h1m4 0h1m16 0h1m4 0h1m4 0h1m3 0h1m2 0h1m5 0h1m13 0h1m180 0h1m9 0h1m3 0h1m7 0h2m6 0h1m3 0h1m6 0h1m4 0h1m14 0h1m1 0h1m1 0h1m14 0h1m4 0h1m6 0h1m3 0h1m6 0h2m7 0h1m3 0h1m9 0h1m-444 1h1m13 0h1m4 0h1m3 0h1m35 0h1m17 0h1m4 0h1m16 0h1m4 0h1m4 0h1m2 0h1m3 0h1m4 0h1m13 0h1m181 0h1m9 0h1m4 0h1m6 0h2m5 0h1m3 0h1m8 0h1m3 0h1m14 0h2m1 0h2m14 0h1m3 0h1m8 0h1m3 0h1m5 0h2m6 0h1m4 0h1m9 0h1m-444 1h1m14 0h1m4 0h1m3 0h1m34 0h1m17 0h1m4 0h1m16 0h1m4 0h1m3 0h1m2 0h1m3 0h1m4 0h1m14 0h1m182 0h1m9 0h1m4 0h1m6 0h2m4 0h1m2 0h1m10 0h1m3 0h1m13 0h2m1 0h2m13 0h1m3 0h1m10 0h1m2 0h1m4 0h2m6 0h1m4 0h1m9 0h1m-442 1h1m13 0h1m5 0h1m3 0h1m34 0h1m16 0h1m4 0h1m15 0h1m5 0h1m2 0h1m2 0h1m3 0h1m5 0h1m13 0h1m184 0h1m9 0h1m4 0h1m5 0h2m4 0h1m2 0h1m11 0h1m2 0h1m13 0h2m1 0h2m13 0h1m2 0h1m11 0h1m2 0h1m4 0h2m5 0h1m4 0h1m9 0h1m-440 1h1m13 0h1m5 0h1m3 0h1m33 0h1m16 0h1m5 0h1m14 0h1m5 0h1m2 0h1m1 0h1m3 0h1m5 0h1m13 0h1m185 0h1m10 0h1m4 0h1m4 0h2m3 0h1m2 0h1m12 0h1m2 0h1m12 0h1m1 0h1m1 0h1m1 0h1m12 0h1m2 0h1m12 0h1m2 0h1m3 0h2m4 0h1m4 0h1m10 0h1m-440 1h1m14 0h1m5 0h1m3 0h1m33 0h1m15 0h1m5 0h1m13 0h1m5 0h1m2 0h1m1 0h1m3 0h1m5 0h1m14 0h1m186 0h1m10 0h1m4 0h1m4 0h2m2 0h1m2 0h1m12 0h1m2 0h1m12 0h2m3 0h2m12 0h1m2 0h1m12 0h1m2 0h1m2 0h2m4 0h1m4 0h1m10 0h1m-438 1h1m14 0h1m5 0h1m3 0h1m33 0h1m15 0h1m5 0h1m12 0h1m5 0h1m1 0h1m1 0h1m3 0h1m5 0h1m14 0h1m188 0h1m9 0h1m5 0h1m3 0h2m2 0h1m2 0h1m12 0h1m2 0h1m11 0h1m1 0h1m3 0h1m1 0h1m11 0h1m2 0h1m12 0h1m2 0h1m2 0h2m3 0h1m5 0h1m9 0h1m-436 1h1m14 0h1m5 0h1m3 0h1m33 0h1m14 0h1m6 0h1m10 0h1m6 0h1m1 0h2m3 0h1m5 0h1m14 0h1m190 0h1m9 0h1m5 0h1m3 0h2m1 0h1m3 0h1m11 0h1m2 0h1m11 0h2m5 0h2m11 0h1m2 0h1m11 0h1m3 0h1m1 0h2m3 0h1m5 0h1m9 0h1m-435 1h1m15 0h1m5 0h1m3 0h2m32 0h1m14 0h1m6 0h2m6 0h2m6 0h1m1 0h2m3 0h1m5 0h1m15 0h1m190 0h1m10 0h1m5 0h1m2 0h2m2 0h1m2 0h1m10 0h1m3 0h1m10 0h1m1 0h1m5 0h1m1 0h1m10 0h1m3 0h1m10 0h1m2 0h1m2 0h2m2 0h1m5 0h1m10 0h1m-434 1h1m15 0h1m5 0h2m3 0h1m32 0h1m14 0h1m7 0h6m7 0h1m1 0h1m3 0h2m5 0h1m15 0h1m192 0h1m10 0h1m5 0h1m2 0h2m1 0h1m3 0h1m9 0h1m2 0h1m10 0h1m1 0h1m7 0h1m1 0h1m10 0h1m2 0h1m9 0h1m3 0h1m1 0h2m2 0h1m5 0h1m10 0h1m-432 1h1m15 0h1m6 0h1m3 0h2m31 0h1m13 0h1m19 0h3m3 0h1m6 0h1m15 0h1m194 0h1m10 0h2m4 0h1m2 0h2m1 0h1m3 0h1m6 0h2m3 0h1m10 0h2m9 0h2m10 0h1m3 0h2m6 0h1m3 0h1m1 0h2m2 0h1m4 0h2m10 0h1m-430 1h1m15 0h1m6 0h1m4 0h1m31 0h1m13 0h2m16 0h2m4 0h1m6 0h1m15 0h1m196 0h1m11 0h1m4 0h3m1 0h2m4 0h6m4 0h1m10 0h2m11 0h2m10 0h1m4 0h6m4 0h2m1 0h3m4 0h1m11 0h1m-429 1h1m16 0h1m6 0h2m3 0h2m30 0h2m13 0h1m14 0h2m3 0h2m6 0h1m16 0h1m197 0h1m11 0h1m5 0h5m12 0h1m9 0h3m13 0h3m9 0h1m12 0h5m5 0h1m11 0h1m-427 1h1m16 0h1m7 0h1m4 0h1m31 0h1m13 0h2m10 0h3m3 0h1m7 0h1m16 0h1m199 0h1m11 0h1m5 0h6m8 0h2m9 0h1m1 0h1m15 0h1m1 0h1m9 0h2m8 0h6m5 0h1m11 0h1m-425 1h1m16 0h2m6 0h2m3 0h2m30 0h3m12 0h11m3 0h2m6 0h2m16 0h1m201 0h1m11 0h2m5 0h2m1 0h4m2 0h3m9 0h4m17 0h4m9 0h3m2 0h4m1 0h2m5 0h2m11 0h1m-423 1h1m17 0h1m7 0h1m4 0h3m30 0h2m16 0h3m4 0h1m7 0h1m17 0h1m203 0h1m12 0h1m5 0h3m1 0h4m9 0h5m21 0h5m9 0h4m1 0h3m5 0h1m12 0h1m-421 1h1m17 0h1m7 0h2m5 0h2m30 0h6m4 0h6m5 0h2m7 0h1m17 0h1m205 0h1m12 0h1m6 0h15m1 0h2m25 0h2m1 0h15m6 0h1m12 0h1m-419 1h1m17 0h2m7 0h2m5 0h3m33 0h4m1 0h3m5 0h2m7 0h2m17 0h1m207 0h1m12 0h2m6 0h14m29 0h14m6 0h2m12 0h1m-417 1h1m18 0h2m7 0h3m5 0h3m32 0h3m5 0h3m7 0h2m18 0h1m209 0h1m13 0h2m6 0h2m49 0h2m6 0h2m13 0h1m-415 1h1m19 0h1m9 0h2m6 0h4m24 0h4m6 0h2m9 0h1m19 0h1m211 0h1m14 0h1m7 0h3m43 0h3m7 0h1m14 0h1m-413 1h1m19 0h2m9 0h3m7 0h7m10 0h7m7 0h3m9 0h2m19 0h1m213 0h2m13 0h2m8 0h2m39 0h2m8 0h2m13 0h2m-411 1h2m19 0h2m10 0h3m11 0h10m11 0h3m10 0h2m19 0h2m216 0h1m14 0h3m7 0h4m31 0h4m7 0h3m14 0h1m-407 1h1m20 0h2m11 0h5m22 0h5m11 0h2m20 0h1m219 0h2m15 0h2m9 0h4m23 0h4m9 0h2m15 0h2m-405 1h1m21 0h3m13 0h22m13 0h3m21 0h1m222 0h1m16 0h3m10 0h11m1 0h11m10 0h3m16 0h1m-402 1h1m23 0h3m42 0h3m23 0h1m224 0h2m17 0h3m18 0h1m18 0h3m17 0h2m-400 1h2m24 0h3m36 0h3m24 0h2m227 0h1m19 0h3m31 0h3m19 0h1m-396 1h1m26 0h4m28 0h4m26 0h1m230 0h2m20 0h6m19 0h6m20 0h2m-394 1h2m28 0h6m16 0h6m28 0h2m233 0h2m24 0h19m24 0h2m-390 1h1m33 0h16m33 0h1m237 0h2m63 0h2m-387 1h2m78 0h2m240 0h2m59 0h2m-383 1h2m74 0h2m244 0h3m53 0h3m-379 1h2m70 0h2m249 0h2m49 0h2m-374 1h2m66 0h2m253 0h4m41 0h4m-370 1h2m62 0h2m259 0h3m35 0h3m-364 1h3m56 0h3m264 0h5m25 0h5m-358 1h2m52 0h2m272 0h12m1 0h12m-351 1h4m44 0h4m286 0h1m-335 1h3m38 0h3m-41 1h5m28 0h5m-33 1h8m12 0h8m-20 1h12m288 44h17m-24 1h7m17 0h7m-35 1h4m31 0h4m-42 1h3m39 0h3m-48 1h3m45 0h3m-54 1h3m51 0h3m-59 1h2m57 0h2m-63 1h2m61 0h2m-67 1h2m27 0h11m27 0h2m-71 1h2m22 0h7m11 0h7m22 0h2m-75 1h2m19 0h5m25 0h5m19 0h2m-351 1h22m250 0h2m18 0h3m35 0h3m18 0h2m-358 1h5m22 0h5m244 0h1m17 0h3m11 0h19m11 0h3m17 0h1m-364 1h5m32 0h5m237 0h2m15 0h3m9 0h5m19 0h5m9 0h3m15 0h2m-369 1h3m42 0h3m233 0h1m15 0h2m8 0h4m29 0h4m8 0h2m15 0h1m-373 1h3m48 0h3m228 0h2m14 0h2m7 0h3m37 0h3m7 0h2m14 0h2m-377 1h2m54 0h2m225 0h1m14 0h2m6 0h3m43 0h3m6 0h2m14 0h1m-381 1h3m58 0h3m221 0h1m13 0h2m6 0h2m1 0h3m41 0h3m1 0h2m6 0h2m13 0h1m-384 1h2m64 0h2m218 0h1m13 0h1m6 0h5m3 0h5m31 0h5m3 0h5m6 0h1m13 0h1m-387 1h2m68 0h2m215 0h1m12 0h2m5 0h2m13 0h3m25 0h3m13 0h2m5 0h2m12 0h1m-390 1h2m72 0h2m211 0h2m12 0h1m5 0h2m1 0h14m3 0h2m21 0h2m3 0h14m1 0h2m5 0h1m12 0h2m-394 1h2m76 0h2m208 0h1m12 0h2m4 0h2m1 0h4m3 0h3m6 0h2m3 0h1m19 0h1m3 0h2m6 0h3m3 0h4m1 0h2m4 0h2m12 0h1m-396 1h1m32 0h16m32 0h1m206 0h1m12 0h1m5 0h1m1 0h3m9 0h1m7 0h2m2 0h2m15 0h2m2 0h2m7 0h1m9 0h3m1 0h1m5 0h1m12 0h1m-399 1h2m27 0h6m16 0h6m27 0h2m203 0h1m12 0h1m4 0h2m1 0h3m2 0h5m4 0h1m8 0h2m2 0h1m13 0h1m2 0h2m8 0h1m4 0h5m2 0h3m1 0h2m4 0h1m12 0h1m-401 1h1m25 0h4m28 0h4m25 0h1m201 0h1m11 0h2m4 0h2m2 0h1m3 0h1m5 0h2m3 0h1m9 0h1m2 0h1m11 0h1m2 0h1m9 0h1m3 0h2m5 0h1m3 0h1m2 0h2m4 0h2m11 0h1m-404 1h2m23 0h3m36 0h3m23 0h2m199 0h1m10 0h1m5 0h2m2 0h1m3 0h1m8 0h1m3 0h1m9 0h1m2 0h1m9 0h1m2 0h1m9 0h1m3 0h1m8 0h1m3 0h1m2 0h2m5 0h1m10 0h1m-405 1h1m22 0h3m15 0h12m15 0h3m22 0h1m197 0h1m10 0h1m4 0h3m2 0h1m3 0h1m10 0h1m2 0h1m10 0h1m1 0h1m9 0h1m1 0h1m10 0h1m2 0h1m10 0h1m3 0h1m2 0h3m4 0h1m10 0h1m-407 1h1m20 0h3m12 0h6m12 0h6m12 0h3m20 0h1m195 0h1m10 0h1m4 0h1m2 0h1m1 0h2m2 0h1m12 0h1m2 0h1m10 0h1m1 0h1m7 0h1m1 0h1m10 0h1m2 0h1m12 0h1m2 0h2m1 0h1m2 0h1m4 0h1m10 0h1m-410 1h2m19 0h2m10 0h5m24 0h5m10 0h2m19 0h2m192 0h1m10 0h1m4 0h1m2 0h1m1 0h1m1 0h1m2 0h1m12 0h1m2 0h1m10 0h1m2 0h1m5 0h1m2 0h1m10 0h1m2 0h1m12 0h1m2 0h1m1 0h1m1 0h1m2 0h1m4 0h1m10 0h1m-412 1h1m19 0h2m9 0h3m12 0h10m12 0h3m9 0h2m19 0h1m190 0h1m10 0h1m4 0h1m2 0h1m2 0h2m2 0h1m13 0h1m2 0h1m11 0h1m1 0h1m5 0h1m1 0h1m11 0h1m2 0h1m13 0h1m2 0h2m2 0h1m2 0h1m4 0h1m10 0h1m-414 1h1m18 0h2m8 0h3m8 0h7m10 0h7m8 0h3m8 0h2m18 0h1m188 0h1m10 0h1m4 0h1m3 0h1m1 0h1m1 0h1m2 0h1m13 0h1m2 0h1m11 0h1m2 0h1m3 0h1m2 0h1m11 0h1m2 0h1m13 0h1m2 0h1m1 0h1m1 0h1m3 0h1m4 0h1m10 0h1m-416 1h1m18 0h1m8 0h2m7 0h4m24 0h4m7 0h2m8 0h1m18 0h1m187 0h1m9 0h1m4 0h1m4 0h1m1 0h1m1 0h1m2 0h1m13 0h1m2 0h1m12 0h1m1 0h1m3 0h1m1 0h1m12 0h1m2 0h1m13 0h1m2 0h1m1 0h1m1 0h1m4 0h1m4 0h1m9 0h1m-417 1h1m17 0h2m7 0h2m6 0h3m32 0h3m6 0h2m7 0h2m17 0h1m185 0h1m9 0h1m4 0h1m4 0h1m1 0h1m3 0h1m2 0h1m12 0h1m2 0h1m12 0h1m2 0h1m1 0h1m2 0h1m12 0h1m2 0h1m12 0h1m2 0h1m3 0h1m1 0h1m4 0h1m4 0h1m9 0h1m-419 1h1m16 0h2m7 0h2m5 0h3m34 0h2m2 0h3m5 0h2m7 0h2m16 0h1m183 0h1m10 0h1m3 0h1m5 0h1m1 0h1m3 0h1m2 0h1m12 0h1m2 0h1m13 0h1m1 0h1m1 0h1m1 0h1m13 0h1m2 0h1m12 0h1m2 0h1m3 0h1m1 0h1m5 0h1m3 0h1m10 0h1m-421 1h1m16 0h1m7 0h2m5 0h2m31 0h6m2 0h7m5 0h2m7 0h1m16 0h1m182 0h1m9 0h1m3 0h1m6 0h1m1 0h1m3 0h1m2 0h1m11 0h1m3 0h1m13 0h1m1 0h1m1 0h1m1 0h1m13 0h1m3 0h1m11 0h1m2 0h1m3 0h1m1 0h1m6 0h1m3 0h1m9 0h1m-422 1h1m16 0h1m6 0h2m4 0h3m30 0h3m14 0h4m4 0h2m6 0h1m16 0h1m180 0h1m9 0h1m3 0h1m6 0h1m2 0h1m4 0h1m2 0h1m10 0h1m2 0h1m14 0h1m1 0h1m1 0h1m1 0h1m14 0h1m2 0h1m10 0h1m2 0h1m4 0h1m2 0h1m6 0h1m3 0h1m9 0h1m-424 1h1m15 0h2m6 0h1m4 0h2m30 0h3m13 0h10m4 0h1m6 0h2m15 0h1m178 0h1m9 0h1m4 0h1m6 0h1m1 0h1m5 0h1m3 0h2m6 0h2m3 0h1m14 0h1m1 0h1m1 0h1m1 0h1m14 0h1m3 0h2m6 0h2m3 0h1m5 0h1m1 0h1m6 0h1m4 0h1m9 0h1m-426 1h1m15 0h1m6 0h2m4 0h1m31 0h1m14 0h2m8 0h3m4 0h2m6 0h1m15 0h1m177 0h1m8 0h1m4 0h1m7 0h1m1 0h1m6 0h1m4 0h6m4 0h5m11 0h1m2 0h1m2 0h1m11 0h5m4 0h6m4 0h1m6 0h1m1 0h1m7 0h1m4 0h1m8 0h1m-427 1h1m15 0h1m6 0h1m4 0h2m30 0h2m13 0h2m12 0h3m4 0h1m6 0h1m15 0h1m175 0h1m9 0h1m3 0h1m8 0h1m1 0h1m7 0h1m11 0h3m4 0h3m9 0h1m1 0h1m1 0h1m9 0h3m4 0h3m11 0h1m7 0h1m1 0h1m8 0h1m3 0h1m9 0h1m-429 1h1m15 0h1m5 0h2m4 0h1m31 0h1m14 0h1m16 0h2m4 0h2m5 0h1m15 0h1m173 0h1m9 0h1m3 0h1m9 0h1m1 0h1m8 0h2m8 0h1m10 0h1m8 0h1m1 0h1m1 0h1m8 0h1m10 0h1m8 0h2m8 0h1m1 0h1m9 0h1m3 0h1m9 0h1m-431 1h1m15 0h1m5 0h1m4 0h2m31 0h1m14 0h1m18 0h3m4 0h1m5 0h1m15 0h1m172 0h1m8 0h1m4 0h1m9 0h1m1 0h1m10 0h8m4 0h4m4 0h1m7 0h1m1 0h1m1 0h1m7 0h1m4 0h4m4 0h8m10 0h1m1 0h1m9 0h1m4 0h1m8 0h1m-431 1h1m14 0h1m5 0h1m4 0h1m31 0h2m14 0h1m7 0h6m7 0h3m4 0h1m5 0h1m14 0h1m171 0h1m9 0h1m3 0h1m10 0h1m1 0h1m16 0h1m3 0h2m4 0h2m3 0h1m5 0h1m2 0h1m2 0h1m5 0h1m3 0h2m4 0h2m3 0h1m16 0h1m1 0h1m10 0h1m3 0h1m9 0h1m-433 1h1m14 0h1m5 0h1m3 0h2m31 0h1m15 0h1m6 0h2m6 0h2m6 0h1m1 0h2m3 0h1m5 0h1m14 0h1m170 0h1m8 0h1m3 0h1m11 0h1m1 0h1m15 0h1m3 0h1m8 0h1m3 0h1m4 0h1m1 0h1m1 0h1m1 0h1m4 0h1m3 0h1m8 0h1m3 0h1m15 0h1m1 0h1m11 0h1m3 0h1m8 0h1m-434 1h1m14 0h1m5 0h1m3 0h1m33 0h1m14 0h1m6 0h1m10 0h1m5 0h1m1 0h1m1 0h1m3 0h1m5 0h1m14 0h1m168 0h1m9 0h1m3 0h1m11 0h1m2 0h1m13 0h1m3 0h1m10 0h1m2 0h1m4 0h1m1 0h1m1 0h1m1 0h1m4 0h1m2 0h1m10 0h1m3 0h1m13 0h1m2 0h1m11 0h1m3 0h1m9 0h1m-436 1h1m14 0h1m5 0h1m3 0h1m33 0h1m15 0h1m5 0h1m12 0h1m5 0h1m1 0h1m1 0h1m3 0h1m5 0h1m14 0h1m167 0h1m8 0h1m3 0h1m13 0h1m1 0h1m13 0h1m2 0h1m12 0h1m2 0h1m3 0h1m1 0h1m1 0h1m1 0h1m3 0h1m2 0h1m12 0h1m2 0h1m13 0h1m1 0h1m13 0h1m3 0h1m8 0h1m-436 1h1m13 0h1m5 0h1m3 0h1m33 0h1m16 0h1m4 0h1m14 0h1m4 0h1m2 0h1m1 0h1m3 0h1m5 0h1m13 0h1m166 0h1m9 0h1m3 0h1m13 0h1m1 0h1m13 0h1m2 0h1m12 0h1m2 0h1m3 0h1m1 0h1m1 0h1m1 0h1m3 0h1m2 0h1m12 0h1m2 0h1m13 0h1m1 0h1m13 0h1m3 0h1m9 0h1m-438 1h1m13 0h1m5 0h1m3 0h1m33 0h1m16 0h1m5 0h1m14 0h1m4 0h1m3 0h1m1 0h1m3 0h1m5 0h1m13 0h1m165 0h1m8 0h1m3 0h1m14 0h1m2 0h1m11 0h1m2 0h1m13 0h1m2 0h1m2 0h1m1 0h1m3 0h1m1 0h1m2 0h1m2 0h1m13 0h1m2 0h1m11 0h1m2 0h1m14 0h1m3 0h1m8 0h1m-439 1h1m13 0h1m5 0h1m3 0h1m34 0h1m16 0h1m4 0h1m15 0h1m5 0h1m2 0h1m2 0h1m3 0h1m5 0h1m13 0h1m164 0h1m8 0h1m3 0h1m15 0h1m1 0h1m11 0h1m2 0h1m13 0h1m2 0h1m2 0h1m1 0h1m3 0h1m1 0h1m2 0h1m2 0h1m13 0h1m2 0h1m11 0h1m1 0h1m15 0h1m3 0h1m8 0h1m-439 1h1m13 0h1m4 0h1m3 0h1m34 0h1m17 0h1m4 0h1m16 0h1m4 0h1m3 0h1m2 0h1m3 0h1m4 0h1m13 0h1m163 0h1m8 0h1m3 0h1m16 0h1m2 0h1m10 0h1m2 0h1m13 0h1m2 0h1m1 0h1m2 0h1m3 0h1m2 0h1m1 0h1m2 0h1m13 0h1m2 0h1m10 0h1m2 0h1m16 0h1m3 0h1m8 0h1m-441 1h1m13 0h1m4 0h1m3 0h1m35 0h1m17 0h1m4 0h1m16 0h1m4 0h1m3 0h1m3 0h1m3 0h1m4 0h1m13 0h1m162 0h1m8 0h1m3 0h1m17 0h1m1 0h1m10 0h1m2 0h1m13 0h1m2 0h1m1 0h1m1 0h1m5 0h1m1 0h1m1 0h1m2 0h1m13 0h1m2 0h1m10 0h1m1 0h1m17 0h1m3 0h1m8 0h1m-441 1h1m12 0h1m4 0h1m3 0h1m35 0h1m18 0h1m4 0h1m16 0h1m4 0h1m4 0h1m3 0h1m3 0h1m4 0h1m12 0h1m161 0h1m8 0h1m3 0h1m18 0h1m2 0h1m10 0h1m2 0h1m12 0h1m2 0h2m1 0h1m7 0h1m1 0h2m2 0h1m12 0h1m2 0h1m10 0h1m2 0h1m18 0h1m3 0h1m8 0h1m-443 1h1m12 0h1m5 0h1m2 0h1m36 0h1m18 0h1m4 0h1m16 0h1m4 0h1m4 0h1m4 0h1m2 0h1m5 0h1m12 0h1m160 0h1m8 0h1m3 0h1m19 0h1m2 0h1m9 0h1m2 0h1m11 0h1m3 0h1m2 0h1m7 0h1m2 0h1m3 0h1m11 0h1m2 0h1m9 0h1m2 0h1m19 0h1m3 0h1m8 0h1m-443 1h1m12 0h1m4 0h1m3 0h1m35 0h1m19 0h1m4 0h1m15 0h1m5 0h1m5 0h1m3 0h1m3 0h1m4 0h1m12 0h1m160 0h1m7 0h1m3 0h1m21 0h1m1 0h1m9 0h1m3 0h1m10 0h1m2 0h1m2 0h1m9 0h1m2 0h1m2 0h1m10 0h1m3 0h1m9 0h1m1 0h1m21 0h1m3 0h1m7 0h1m-444 1h1m12 0h1m4 0h1m3 0h1m36 0h1m19 0h1m5 0h1m14 0h1m4 0h1m6 0h1m4 0h1m3 0h1m4 0h1m12 0h1m158 0h1m8 0h1m3 0h1m22 0h1m1 0h2m8 0h1m3 0h1m7 0h2m2 0h2m1 0h1m11 0h1m1 0h2m2 0h2m7 0h1m3 0h1m8 0h2m1 0h1m22 0h1m3 0h1m8 0h1m-445 1h1m11 0h1m4 0h1m3 0h1m37 0h1m20 0h1m4 0h1m14 0h1m4 0h1m6 0h1m5 0h1m3 0h1m4 0h1m11 0h1m158 0h1m8 0h1m2 0h1m23 0h2m2 0h1m8 0h1m3 0h7m3 0h2m1 0h1m13 0h1m1 0h2m3 0h7m3 0h1m8 0h1m2 0h2m23 0h1m2 0h1m8 0h1m-446 1h1m12 0h1m4 0h1m2 0h1m37 0h1m21 0h1m5 0h1m12 0h1m5 0h1m7 0h1m5 0h1m2 0h1m4 0h1m12 0h1m157 0h1m7 0h1m3 0h1m12 0h10m3 0h1m2 0h1m8 0h1m10 0h3m1 0h1m3 0h9m3 0h1m1 0h3m10 0h1m8 0h1m2 0h1m3 0h10m12 0h1m3 0h1m7 0h1m-446 1h1m11 0h1m4 0h1m3 0h1m37 0h1m22 0h1m5 0h1m10 0h1m5 0h1m8 0h1m5 0h1m3 0h1m4 0h1m11 0h1m156 0h1m8 0h1m3 0h1m9 0h3m10 0h3m1 0h1m2 0h3m6 0h2m6 0h4m1 0h1m1 0h3m9 0h3m1 0h1m1 0h4m6 0h2m6 0h3m2 0h1m1 0h3m10 0h3m9 0h1m3 0h1m8 0h1m-448 1h1m12 0h1m4 0h1m2 0h1m38 0h1m22 0h1m6 0h2m5 0h3m6 0h1m8 0h1m6 0h1m2 0h1m4 0h1m12 0h1m155 0h1m8 0h1m2 0h1m8 0h2m4 0h8m4 0h4m3 0h3m5 0h8m1 0h4m3 0h9m3 0h4m1 0h8m5 0h3m3 0h4m4 0h8m4 0h2m8 0h1m2 0h1m8 0h1m-448 1h1m11 0h1m4 0h1m2 0h1m39 0h1m23 0h1m7 0h5m8 0h1m9 0h1m7 0h1m2 0h1m4 0h1m11 0h1m155 0h1m7 0h1m3 0h1m6 0h2m3 0h3m8 0h4m2 0h4m4 0h8m4 0h3m3 0h3m9 0h3m3 0h3m4 0h8m4 0h4m2 0h4m8 0h3m3 0h2m6 0h1m3 0h1m7 0h1m-449 1h1m12 0h1m3 0h1m3 0h1m39 0h1m24 0h1m18 0h1m10 0h1m7 0h1m3 0h1m3 0h1m12 0h1m154 0h1m7 0h1m3 0h1m5 0h1m3 0h2m15 0h2m2 0h1m1 0h3m10 0h5m2 0h2m15 0h2m2 0h5m10 0h3m1 0h1m2 0h2m15 0h2m3 0h1m5 0h1m3 0h1m7 0h1m-449 1h1m11 0h1m4 0h1m2 0h1m40 0h1m15 0h11m16 0h1m11 0h1m8 0h1m2 0h1m4 0h1m11 0h1m154 0h1m7 0h1m3 0h1m4 0h1m2 0h2m19 0h1m2 0h2m2 0h10m2 0h1m3 0h1m19 0h1m3 0h1m2 0h10m2 0h2m2 0h1m19 0h2m2 0h1m4 0h1m3 0h1m7 0h1m-450 1h1m12 0h1m3 0h1m3 0h1m16 0h8m16 0h1m13 0h2m10 0h3m12 0h2m12 0h1m8 0h1m3 0h1m3 0h1m12 0h1m152 0h1m8 0h1m2 0h1m4 0h1m2 0h1m22 0h1m3 0h1m12 0h1m2 0h2m21 0h2m2 0h1m12 0h1m3 0h1m22 0h1m2 0h1m4 0h1m2 0h1m8 0h1m-451 1h1m11 0h1m4 0h1m2 0h1m13 0h4m8 0h4m12 0h1m12 0h1m14 0h3m7 0h3m14 0h1m9 0h1m2 0h1m4 0h1m11 0h1m152 0h1m8 0h1m2 0h1m3 0h1m2 0h1m24 0h2m2 0h1m10 0h1m2 0h1m25 0h1m2 0h1m10 0h1m2 0h2m24 0h1m2 0h1m3 0h1m2 0h1m8 0h1m-451 1h1m11 0h1m3 0h1m3 0h1m10 0h3m16 0h3m9 0h1m11 0h1m16 0h9m17 0h1m9 0h1m3 0h1m3 0h1m11 0h1m152 0h1m7 0h1m3 0h1m2 0h1m2 0h1m27 0h1m1 0h1m9 0h1m2 0h1m27 0h1m2 0h1m9 0h1m1 0h1m27 0h1m2 0h1m2 0h1m3 0h1m7 0h1m-452 1h1m11 0h1m4 0h1m2 0h1m9 0h2m22 0h2m7 0h1m10 0h1m19 0h1m23 0h1m10 0h1m2 0h1m4 0h1m11 0h1m151 0h1m7 0h1m3 0h1m1 0h1m2 0h1m28 0h1m2 0h1m8 0h1m1 0h1m29 0h1m1 0h1m8 0h1m2 0h1m28 0h1m2 0h1m1 0h1m3 0h1m7 0h1m-452 1h1m11 0h1m4 0h1m2 0h1m7 0h2m26 0h2m5 0h1m9 0h1m6 0h8m6 0h1m23 0h1m10 0h1m2 0h1m4 0h1m11 0h1m151 0h1m7 0h1m2 0h1m2 0h1m1 0h1m30 0h1m2 0h1m6 0h1m1 0h1m31 0h1m1 0h1m6 0h1m2 0h1m30 0h1m1 0h1m2 0h1m2 0h1m7 0h1m-452 1h1m11 0h1m3 0h1m2 0h1m7 0h1m30 0h1m4 0h1m8 0h1m6 0h1m8 0h1m6 0h1m22 0h1m11 0h1m2 0h1m3 0h1m11 0h1m150 0h1m8 0h1m2 0h1m1 0h1m1 0h1m4 0h5m15 0h4m4 0h1m1 0h1m5 0h1m2 0h1m3 0h5m15 0h5m3 0h1m2 0h1m5 0h1m1 0h1m4 0h4m15 0h5m4 0h1m1 0h1m1 0h1m2 0h1m8 0h1m-454 1h1m11 0h1m4 0h1m2 0h1m5 0h2m32 0h2m2 0h1m8 0h1m5 0h1m10 0h2m5 0h1m21 0h1m11 0h1m2 0h1m4 0h1m11 0h1m149 0h1m8 0h1m2 0h1m1 0h1m1 0h1m1 0h3m5 0h2m10 0h3m4 0h3m2 0h1m1 0h1m4 0h1m1 0h1m2 0h2m5 0h2m11 0h2m5 0h2m2 0h1m1 0h1m4 0h1m1 0h1m2 0h3m4 0h3m10 0h2m5 0h3m1 0h1m1 0h1m1 0h1m2 0h1m8 0h1m-454 1h1m11 0h1m3 0h1m3 0h1m4 0h1m36 0h1m2 0h1m6 0h1m5 0h1m12 0h1m5 0h1m20 0h1m12 0h1m3 0h1m3 0h1m11 0h1m149 0h1m8 0h1m2 0h2m1 0h1m1 0h1m10 0h2m7 0h1m10 0h1m1 0h1m1 0h1m3 0h1m2 0h3m9 0h2m7 0h2m9 0h3m2 0h1m3 0h1m1 0h1m1 0h1m10 0h1m7 0h2m10 0h1m1 0h1m1 0h2m2 0h1m8 0h1m-454 1h1m11 0h1m3 0h1m2 0h1m4 0h1m38 0h1m1 0h1m6 0h1m4 0h1m14 0h1m4 0h1m20 0h1m13 0h1m2 0h1m3 0h1m11 0h1m149 0h1m7 0h1m3 0h2m1 0h2m4 0h5m4 0h1m5 0h1m4 0h4m4 0h2m2 0h1m2 0h1m1 0h2m4 0h5m4 0h1m5 0h1m4 0h5m4 0h2m1 0h1m2 0h1m2 0h2m4 0h4m4 0h1m5 0h1m4 0h5m4 0h2m1 0h2m3 0h1m7 0h1m-454 1h1m10 0h1m4 0h1m2 0h1m3 0h1m40 0h2m6 0h1m4 0h1m15 0h1m4 0h1m19 0h1m13 0h1m2 0h1m4 0h1m10 0h1m149 0h1m7 0h1m3 0h1m2 0h1m3 0h2m5 0h1m4 0h1m3 0h1m3 0h2m4 0h2m3 0h2m1 0h1m2 0h1m1 0h1m3 0h2m5 0h2m3 0h1m3 0h1m3 0h2m5 0h2m3 0h1m1 0h1m2 0h1m1 0h2m3 0h2m4 0h2m3 0h1m3 0h1m4 0h1m5 0h2m3 0h1m2 0h1m3 0h1m7 0h1m-455 1h1m11 0h1m3 0h1m3 0h1m2 0h1m42 0h1m5 0h1m4 0h1m16 0h1m4 0h1m19 0h1m13 0h1m3 0h1m3 0h1m11 0h1m148 0h1m7 0h1m3 0h1m1 0h1m3 0h1m8 0h2m2 0h1m2 0h1m3 0h1m8 0h1m3 0h1m1 0h1m1 0h1m2 0h1m2 0h1m9 0h1m3 0h1m1 0h1m3 0h1m9 0h1m2 0h1m2 0h1m1 0h1m1 0h1m3 0h1m8 0h1m3 0h1m2 0h1m2 0h2m8 0h1m3 0h1m1 0h1m3 0h1m7 0h1m-455 1h1m11 0h1m3 0h1m2 0h1m3 0h1m42 0h2m4 0h1m4 0h1m16 0h1m4 0h1m18 0h1m15 0h1m2 0h1m3 0h1m11 0h1m148 0h1m7 0h1m3 0h1m1 0h1m2 0h1m10 0h1m3 0h1m1 0h1m2 0h1m10 0h1m2 0h2m1 0h2m1 0h1m2 0h1m11 0h1m2 0h1m1 0h1m2 0h1m11 0h1m2 0h1m1 0h2m1 0h2m2 0h1m10 0h1m2 0h1m1 0h1m3 0h1m10 0h1m2 0h1m1 0h1m3 0h1m7 0h1m-455 1h1m10 0h1m4 0h1m2 0h1m2 0h1m44 0h1m4 0h1m4 0h1m16 0h1m4 0h1m18 0h1m15 0h1m2 0h1m4 0h1m10 0h1m148 0h1m7 0h1m3 0h3m1 0h1m12 0h1m2 0h2m2 0h1m12 0h1m2 0h1m1 0h2m1 0h1m2 0h1m11 0h1m3 0h1m3 0h1m11 0h1m2 0h1m1 0h2m1 0h1m2 0h1m12 0h1m2 0h2m2 0h1m12 0h1m1 0h3m3 0h1m7 0h1m-455 1h1m10 0h1m4 0h1m2 0h1m1 0h1m46 0h1m3 0h1m4 0h1m16 0h1m4 0h1m17 0h1m16 0h1m2 0h1m4 0h1m10 0h1m148 0h1m7 0h1m3 0h3m1 0h1m13 0h1m2 0h1m2 0h1m12 0h1m2 0h1m1 0h4m1 0h1m13 0h1m2 0h1m2 0h1m13 0h1m1 0h4m1 0h1m2 0h1m12 0h1m2 0h1m2 0h1m13 0h1m1 0h3m3 0h1m7 0h1m-455 1h1m10 0h1m3 0h1m2 0h1m1 0h1m47 0h2m2 0h1m4 0h1m16 0h1m4 0h1m17 0h1m17 0h1m2 0h1m3 0h1m10 0h1m148 0h1m7 0h1m2 0h4m1 0h1m13 0h1m2 0h1m2 0h1m13 0h1m1 0h6m1 0h1m13 0h1m2 0h1m2 0h1m13 0h1m1 0h6m1 0h1m13 0h1m2 0h1m2 0h1m13 0h1m1 0h4m2 0h1m7 0h1m-456 1h1m11 0h1m3 0h1m2 0h1m1 0h1m5 0h10m18 0h10m5 0h1m2 0h1m5 0h1m15 0h1m4 0h1m16 0h1m18 0h1m2 0h1m3 0h1m11 0h1m147 0h1m7 0h1m2 0h4m1 0h1m13 0h1m2 0h1m2 0h1m13 0h1m1 0h6m1 0h1m13 0h1m2 0h1m2 0h1m13 0h1m1 0h6m1 0h1m13 0h1m2 0h1m2 0h1m13 0h1m1 0h4m2 0h1m7 0h1m-456 1h1m11 0h1m3 0h1m2 0h2m4 0h2m10 0h2m14 0h2m10 0h2m4 0h1m2 0h1m4 0h1m14 0h1m5 0h1m15 0h1m19 0h1m2 0h1m3 0h1m11 0h1m147 0h1m7 0h1m2 0h4m1 0h1m13 0h1m2 0h1m2 0h1m13 0h1m1 0h6m1 0h1m13 0h1m2 0h1m2 0h1m13 0h1m1 0h6m1 0h1m13 0h1m2 0h1m2 0h1m13 0h1m1 0h4m2 0h1m7 0h1m-456 1h1m10 0h1m4 0h1m2 0h2m3 0h1m14 0h2m10 0h2m14 0h1m3 0h1m2 0h1m5 0h1m13 0h1m4 0h1m16 0h1m19 0h1m2 0h1m4 0h1m10 0h1m147 0h1m7 0h1m2 0h4m1 0h1m13 0h1m2 0h1m2 0h1m12 0h1m2 0h1m1 0h4m1 0h1m13 0h1m2 0h1m2 0h1m13 0h1m1 0h4m1 0h1m2 0h1m12 0h1m2 0h1m2 0h1m13 0h1m1 0h4m2 0h1m7 0h1m-456 1h1m10 0h1m4 0h1m2 0h2m2 0h1m17 0h1m8 0h1m17 0h1m2 0h2m1 0h1m5 0h1m12 0h1m5 0h1m15 0h1m20 0h1m2 0h1m4 0h1m10 0h1m147 0h1m7 0h1m3 0h3m1 0h1m12 0h1m2 0h2m2 0h1m12 0h1m2 0h1m1 0h4m2 0h1m12 0h1m2 0h1m2 0h1m12 0h1m2 0h4m1 0h1m2 0h1m12 0h1m2 0h2m2 0h1m12 0h1m1 0h3m3 0h1m7 0h1m-456 1h1m10 0h1m3 0h1m2 0h2m2 0h1m19 0h1m6 0h1m19 0h1m2 0h2m1 0h1m5 0h2m8 0h2m5 0h1m15 0h1m22 0h1m2 0h1m3 0h1m10 0h1m147 0h1m7 0h1m3 0h1m1 0h1m2 0h1m11 0h1m2 0h2m3 0h1m11 0h1m2 0h1m1 0h2m1 0h1m2 0h1m11 0h1m2 0h1m1 0h1m2 0h1m11 0h1m2 0h1m1 0h2m1 0h1m2 0h1m11 0h1m3 0h2m2 0h1m11 0h1m2 0h1m1 0h1m3 0h1m7 0h1m-456 1h1m10 0h1m3 0h1m2 0h2m1 0h1m6 0h8m7 0h1m4 0h1m7 0h8m6 0h1m1 0h1m1 0h1m1 0h1m6 0h3m3 0h2m7 0h1m14 0h1m23 0h1m2 0h1m3 0h1m10 0h1m147 0h1m7 0h1m3 0h1m1 0h1m3 0h1m9 0h1m3 0h1m1 0h1m2 0h1m10 0h1m2 0h1m1 0h1m1 0h1m1 0h1m3 0h1m9 0h1m3 0h1m1 0h1m3 0h1m9 0h1m3 0h1m1 0h1m1 0h1m1 0h1m2 0h1m10 0h1m2 0h1m1 0h1m3 0h1m9 0h1m3 0h1m1 0h1m3 0h1m7 0h1m-456 1h1m10 0h1m3 0h1m2 0h3m6 0h1m8 0h2m5 0h1m4 0h1m5 0h2m8 0h1m6 0h2m2 0h2m9 0h3m8 0h1m14 0h1m24 0h1m2 0h1m3 0h1m10 0h1m147 0h1m7 0h1m3 0h1m1 0h2m3 0h1m7 0h1m3 0h1m2 0h1m3 0h2m6 0h2m3 0h1m1 0h1m1 0h1m2 0h1m3 0h1m7 0h1m3 0h1m3 0h1m3 0h1m7 0h1m3 0h1m2 0h1m1 0h1m1 0h1m3 0h2m6 0h2m3 0h1m2 0h1m3 0h1m7 0h1m3 0h2m1 0h1m3 0h1m7 0h1m-457 1h1m11 0h1m3 0h1m2 0h1m1 0h1m5 0h1m11 0h1m5 0h1m2 0h1m5 0h1m11 0h1m5 0h1m1 0h1m2 0h2m18 0h1m14 0h1m25 0h1m2 0h1m3 0h1m11 0h1m146 0h1m7 0h1m3 0h1m2 0h1m4 0h7m3 0h1m4 0h1m4 0h6m4 0h2m1 0h1m2 0h1m1 0h2m3 0h7m3 0h1m5 0h1m3 0h7m3 0h2m1 0h1m2 0h1m1 0h2m4 0h6m4 0h1m4 0h1m3 0h7m4 0h1m2 0h1m3 0h1m7 0h1m-457 1h1m11 0h1m3 0h1m2 0h2m5 0h1m13 0h1m4 0h1m2 0h1m4 0h1m13 0h1m5 0h2m3 0h3m14 0h2m13 0h2m26 0h1m2 0h1m3 0h1m11 0h1m146 0h1m7 0h1m3 0h2m1 0h3m11 0h1m6 0h1m12 0h2m2 0h1m2 0h1m1 0h1m1 0h1m11 0h1m7 0h1m11 0h1m1 0h1m1 0h1m2 0h1m2 0h2m12 0h1m6 0h1m11 0h3m1 0h2m3 0h1m7 0h1m-457 1h1m11 0h1m3 0h1m2 0h2m4 0h1m14 0h1m5 0h2m5 0h1m14 0h1m4 0h2m5 0h3m11 0h1m14 0h1m28 0h1m2 0h1m3 0h1m11 0h1m146 0h1m8 0h1m2 0h2m2 0h1m1 0h2m7 0h2m8 0h2m8 0h2m1 0h1m1 0h1m4 0h1m1 0h1m1 0h2m7 0h2m9 0h2m7 0h2m1 0h1m1 0h1m4 0h1m1 0h1m1 0h2m8 0h2m8 0h2m7 0h2m1 0h1m2 0h2m2 0h1m8 0h1m-457 1h1m11 0h1m3 0h1m2 0h2m4 0h1m15 0h1m4 0h2m4 0h1m15 0h1m4 0h2m6 0h5m4 0h4m13 0h2m29 0h1m2 0h1m3 0h1m11 0h1m146 0h1m8 0h1m2 0h1m1 0h1m1 0h1m3 0h7m12 0h8m2 0h1m2 0h1m4 0h1m1 0h1m3 0h7m13 0h7m3 0h1m1 0h1m4 0h1m2 0h1m2 0h8m12 0h7m3 0h1m1 0h1m1 0h1m2 0h1m8 0h1m-457 1h1m11 0h1m3 0h1m2 0h1m5 0h1m15 0h1m4 0h2m4 0h1m15 0h1m5 0h1m8 0h7m14 0h3m31 0h1m2 0h1m3 0h1m11 0h1m147 0h1m7 0h1m2 0h1m1 0h1m2 0h1m31 0h1m1 0h1m6 0h1m1 0h1m31 0h1m1 0h1m6 0h1m1 0h1m31 0h1m2 0h1m1 0h1m2 0h1m7 0h1m-456 1h1m11 0h1m3 0h1m2 0h1m4 0h1m16 0h1m4 0h2m4 0h1m16 0h1m4 0h1m11 0h3m12 0h3m34 0h1m2 0h1m3 0h1m11 0h1m147 0h1m7 0h1m3 0h1m1 0h1m2 0h1m29 0h1m1 0h1m7 0h1m2 0h1m29 0h1m2 0h1m7 0h1m1 0h1m29 0h1m2 0h1m1 0h1m3 0h1m7 0h1m-456 1h1m11 0h1m3 0h1m2 0h1m4 0h1m16 0h1m4 0h2m4 0h1m16 0h1m4 0h1m14 0h12m37 0h1m2 0h1m4 0h1m10 0h1m147 0h1m7 0h1m3 0h1m2 0h1m1 0h1m28 0h1m2 0h1m8 0h1m2 0h1m27 0h1m2 0h1m8 0h1m2 0h1m28 0h1m1 0h1m2 0h1m3 0h1m7 0h1m-456 1h1m11 0h1m3 0h1m2 0h1m4 0h1m16 0h1m4 0h2m4 0h1m16 0h1m4 0h1m11 0h3m12 0h3m34 0h1m2 0h1m3 0h1m11 0h1m147 0h1m7 0h1m3 0h1m2 0h1m2 0h1m26 0h1m2 0h1m10 0h1m2 0h1m25 0h1m2 0h1m10 0h1m2 0h1m26 0h1m2 0h1m2 0h1m3 0h1m7 0h1m-456 1h1m11 0h1m3 0h1m2 0h1m5 0h1m15 0h1m4 0h2m4 0h1m15 0h1m5 0h1m8 0h7m14 0h3m31 0h1m2 0h1m3 0h1m11 0h1m147 0h1m8 0h1m2 0h1m3 0h1m2 0h2m23 0h1m2 0h1m12 0h1m2 0h1m23 0h1m2 0h1m12 0h1m2 0h1m23 0h2m2 0h1m3 0h1m2 0h1m8 0h1m-456 1h1m11 0h1m3 0h1m2 0h2m4 0h1m15 0h1m4 0h2m4 0h1m15 0h1m4 0h2m6 0h5m4 0h4m13 0h2m29 0h1m2 0h1m3 0h1m11 0h1m147 0h1m8 0h1m2 0h1m4 0h1m3 0h1m20 0h2m2 0h1m5 0h3m6 0h1m2 0h1m21 0h1m2 0h1m6 0h3m5 0h1m2 0h2m20 0h1m3 0h1m4 0h1m2 0h1m8 0h1m-456 1h1m11 0h1m3 0h1m2 0h2m4 0h1m14 0h1m5 0h2m5 0h1m14 0h1m4 0h2m5 0h3m11 0h1m14 0h1m28 0h1m2 0h1m3 0h1m11 0h1m148 0h1m7 0h1m3 0h1m4 0h2m2 0h2m17 0h1m3 0h1m1 0h5m3 0h5m2 0h1m2 0h2m17 0h2m2 0h1m2 0h5m3 0h5m1 0h1m3 0h1m17 0h2m2 0h2m4 0h1m3 0h1m7 0h1m-455 1h1m11 0h1m3 0h1m2 0h2m5 0h1m13 0h1m4 0h1m2 0h1m4 0h1m13 0h1m5 0h2m3 0h3m14 0h2m13 0h2m26 0h1m2 0h1m3 0h1m11 0h1m148 0h1m7 0h1m3 0h1m6 0h1m3 0h2m12 0h3m2 0h4m13 0h5m2 0h3m11 0h3m2 0h5m13 0h4m2 0h3m12 0h2m3 0h1m6 0h1m3 0h1m7 0h1m-455 1h1m11 0h1m3 0h1m2 0h1m1 0h1m5 0h1m11 0h1m5 0h1m2 0h1m5 0h1m11 0h1m5 0h1m1 0h1m2 0h2m18 0h1m14 0h1m25 0h1m2 0h1m3 0h1m11 0h1m148 0h1m8 0h1m2 0h1m7 0h2m3 0h12m3 0h4m3 0h13m2 0h3m4 0h11m4 0h3m2 0h13m3 0h4m3 0h12m3 0h2m7 0h1m2 0h1m8 0h1m-454 1h1m10 0h1m3 0h1m2 0h3m6 0h1m8 0h2m5 0h1m4 0h1m5 0h2m8 0h1m6 0h2m2 0h2m9 0h3m8 0h1m14 0h1m24 0h1m2 0h1m3 0h1m10 0h1m149 0h1m8 0h1m3 0h1m8 0h3m13 0h4m2 0h3m6 0h2m4 0h4m1 0h4m13 0h4m1 0h4m4 0h2m6 0h3m2 0h4m13 0h3m8 0h1m3 0h1m8 0h1m-454 1h1m10 0h1m3 0h1m2 0h2m1 0h1m6 0h8m7 0h1m4 0h1m7 0h8m6 0h1m1 0h1m1 0h1m1 0h1m6 0h3m3 0h2m7 0h1m14 0h1m23 0h1m2 0h1m3 0h1m10 0h1m150 0h1m7 0h1m3 0h1m11 0h5m3 0h5m1 0h1m3 0h1m7 0h2m8 0h3m1 0h2m1 0h5m3 0h5m1 0h2m1 0h3m8 0h2m7 0h1m3 0h1m1 0h5m3 0h5m11 0h1m3 0h1m7 0h1m-453 1h1m10 0h1m3 0h1m2 0h2m2 0h1m19 0h1m6 0h1m19 0h1m2 0h2m1 0h1m5 0h2m8 0h2m5 0h1m15 0h1m22 0h1m2 0h1m3 0h1m10 0h1m150 0h1m8 0h1m2 0h1m16 0h3m5 0h1m2 0h2m7 0h1m4 0h5m3 0h2m2 0h1m5 0h3m5 0h1m2 0h2m3 0h5m4 0h1m7 0h2m2 0h1m5 0h3m16 0h1m2 0h1m8 0h1m-453 1h1m10 0h1m4 0h1m2 0h2m2 0h1m17 0h1m8 0h1m17 0h1m2 0h2m1 0h1m5 0h1m12 0h1m5 0h1m15 0h1m20 0h1m2 0h1m4 0h1m10 0h1m150 0h1m8 0h1m3 0h1m22 0h1m2 0h1m8 0h1m4 0h1m5 0h2m3 0h1m2 0h1m11 0h1m2 0h1m3 0h2m5 0h1m4 0h1m8 0h1m2 0h1m22 0h1m3 0h1m8 0h1m-453 1h1m10 0h1m4 0h1m2 0h2m3 0h1m14 0h2m10 0h2m14 0h1m3 0h1m2 0h1m5 0h1m13 0h1m4 0h1m16 0h1m19 0h1m2 0h1m4 0h1m10 0h1m151 0h1m7 0h1m3 0h1m21 0h1m2 0h1m9 0h1m2 0h2m8 0h1m3 0h1m2 0h1m9 0h1m2 0h1m3 0h1m8 0h2m2 0h1m9 0h1m2 0h1m21 0h1m3 0h1m7 0h1m-452 1h1m11 0h1m3 0h1m2 0h2m4 0h2m10 0h2m14 0h2m10 0h2m4 0h1m2 0h1m4 0h1m14 0h1m5 0h1m15 0h1m19 0h1m2 0h1m3 0h1m11 0h1m151 0h1m8 0h1m2 0h1m20 0h1m2 0h1m9 0h1m3 0h1m10 0h1m2 0h2m1 0h1m9 0h1m1 0h2m2 0h1m10 0h1m3 0h1m9 0h1m2 0h1m20 0h1m2 0h1m8 0h1m-452 1h1m11 0h1m3 0h1m2 0h1m1 0h1m5 0h10m18 0h10m5 0h1m2 0h1m5 0h1m15 0h1m4 0h1m16 0h1m18 0h1m2 0h1m3 0h1m11 0h1m151 0h1m8 0h1m3 0h1m19 0h1m1 0h1m10 0h1m2 0h1m12 0h1m2 0h2m1 0h1m7 0h1m1 0h2m2 0h1m12 0h1m2 0h1m10 0h1m1 0h1m19 0h1m3 0h1m8 0h1m-451 1h1m10 0h1m3 0h1m2 0h1m1 0h1m47 0h2m2 0h1m4 0h1m16 0h1m4 0h1m17 0h1m17 0h1m2 0h1m3 0h1m10 0h1m153 0h1m7 0h1m3 0h1m18 0h1m1 0h1m11 0h1m2 0h1m12 0h1m2 0h2m2 0h1m5 0h1m2 0h2m2 0h1m12 0h1m2 0h1m11 0h1m1 0h1m18 0h1m3 0h1m7 0h1m-450 1h1m10 0h1m4 0h1m2 0h1m1 0h1m46 0h1m3 0h1m4 0h1m16 0h1m4 0h1m17 0h1m16 0h1m2 0h1m4 0h1m10 0h1m153 0h1m8 0h1m3 0h1m16 0h1m2 0h1m10 0h1m2 0h1m13 0h1m2 0h1m1 0h1m1 0h1m5 0h1m1 0h1m1 0h1m2 0h1m13 0h1m2 0h1m10 0h1m2 0h1m16 0h1m3 0h1m8 0h1m-450 1h1m10 0h1m4 0h1m2 0h1m2 0h1m44 0h1m4 0h1m4 0h1m16 0h1m4 0h1m18 0h1m15 0h1m2 0h1m4 0h1m10 0h1m153 0h1m8 0h1m3 0h1m16 0h1m1 0h1m11 0h1m2 0h1m13 0h1m2 0h1m1 0h1m2 0h1m3 0h1m2 0h1m1 0h1m2 0h1m13 0h1m2 0h1m11 0h1m1 0h1m16 0h1m3 0h1m8 0h1m-450 1h1m11 0h1m3 0h1m2 0h1m3 0h1m42 0h2m4 0h1m4 0h1m16 0h1m4 0h1m18 0h1m15 0h1m2 0h1m3 0h1m11 0h1m154 0h1m8 0h1m3 0h1m15 0h1m1 0h1m11 0h1m2 0h1m13 0h1m2 0h1m2 0h1m1 0h1m3 0h1m1 0h1m2 0h1m2 0h1m13 0h1m2 0h1m11 0h1m1 0h1m15 0h1m3 0h1m8 0h1m-449 1h1m11 0h1m3 0h1m3 0h1m2 0h1m42 0h1m5 0h1m4 0h1m16 0h1m4 0h1m19 0h1m13 0h1m3 0h1m3 0h1m11 0h1m154 0h1m8 0h1m3 0h1m14 0h1m1 0h1m12 0h1m2 0h1m13 0h1m2 0h1m2 0h1m2 0h1m1 0h1m2 0h1m2 0h1m2 0h1m13 0h1m2 0h1m12 0h1m1 0h1m14 0h1m3 0h1m8 0h1m-448 1h1m10 0h1m4 0h1m2 0h1m3 0h1m40 0h2m6 0h1m4 0h1m15 0h1m4 0h1m19 0h1m13 0h1m2 0h1m4 0h1m10 0h1m156 0h1m8 0h1m3 0h1m13 0h1m1 0h1m13 0h1m2 0h1m12 0h1m2 0h1m3 0h1m1 0h1m1 0h1m1 0h1m3 0h1m2 0h1m12 0h1m2 0h1m13 0h1m1 0h1m13 0h1m3 0h1m8 0h1m-447 1h1m11 0h1m3 0h1m2 0h1m4 0h1m38 0h1m1 0h1m6 0h1m4 0h1m14 0h1m4 0h1m20 0h1m13 0h1m2 0h1m3 0h1m11 0h1m156 0h1m8 0h1m3 0h1m13 0h1m1 0h1m13 0h1m2 0h1m11 0h1m3 0h1m3 0h1m1 0h1m1 0h1m1 0h1m3 0h1m3 0h1m11 0h1m2 0h1m13 0h1m1 0h1m13 0h1m3 0h1m8 0h1m-447 1h1m11 0h1m3 0h1m3 0h1m4 0h1m36 0h1m2 0h1m6 0h1m5 0h1m12 0h1m5 0h1m20 0h1m12 0h1m3 0h1m3 0h1m11 0h1m157 0h1m8 0h1m3 0h1m11 0h1m2 0h1m14 0h1m2 0h1m9 0h2m2 0h1m4 0h1m1 0h1m1 0h1m1 0h1m4 0h1m2 0h2m9 0h1m2 0h1m14 0h1m2 0h1m11 0h1m3 0h1m8 0h1m-446 1h1m11 0h1m4 0h1m2 0h1m5 0h2m32 0h2m2 0h1m8 0h1m5 0h1m10 0h2m5 0h1m21 0h1m11 0h1m2 0h1m4 0h1m11 0h1m157 0h1m9 0h1m3 0h1m10 0h1m1 0h1m15 0h1m3 0h2m6 0h1m3 0h1m5 0h1m1 0h1m1 0h1m1 0h1m5 0h1m3 0h1m6 0h2m3 0h1m15 0h1m1 0h1m10 0h1m3 0h1m9 0h1m-445 1h1m11 0h1m3 0h1m2 0h1m7 0h1m30 0h1m4 0h1m8 0h1m6 0h1m8 0h1m6 0h1m22 0h1m11 0h1m2 0h1m3 0h1m11 0h1m159 0h1m8 0h1m3 0h1m10 0h1m1 0h1m12 0h5m4 0h6m4 0h1m5 0h1m2 0h1m2 0h1m5 0h1m4 0h6m4 0h5m12 0h1m1 0h1m10 0h1m3 0h1m8 0h1m-444 1h1m11 0h1m4 0h1m2 0h1m7 0h2m26 0h2m5 0h1m9 0h1m6 0h8m6 0h1m23 0h1m10 0h1m2 0h1m4 0h1m11 0h1m159 0h1m9 0h1m3 0h1m9 0h1m1 0h1m9 0h3m4 0h3m10 0h2m7 0h1m1 0h1m1 0h1m7 0h2m10 0h3m4 0h3m9 0h1m1 0h1m9 0h1m3 0h1m9 0h1m-444 1h1m11 0h1m4 0h1m2 0h1m9 0h2m22 0h2m7 0h1m10 0h1m19 0h1m23 0h1m10 0h1m2 0h1m4 0h1m11 0h1m160 0h1m8 0h1m4 0h1m8 0h1m1 0h1m8 0h1m9 0h2m7 0h2m9 0h1m1 0h1m1 0h1m9 0h2m7 0h2m9 0h1m8 0h1m1 0h1m8 0h1m4 0h1m8 0h1m-442 1h1m11 0h1m3 0h1m3 0h1m10 0h3m16 0h3m9 0h1m11 0h1m16 0h9m17 0h1m9 0h1m3 0h1m3 0h1m11 0h1m161 0h1m9 0h1m3 0h1m8 0h1m1 0h1m7 0h1m4 0h4m4 0h7m11 0h1m1 0h1m1 0h1m11 0h7m4 0h4m4 0h1m7 0h1m1 0h1m8 0h1m3 0h1m9 0h1m-442 1h1m11 0h1m4 0h1m2 0h1m13 0h4m8 0h4m12 0h1m12 0h1m14 0h3m7 0h3m14 0h1m9 0h1m2 0h1m4 0h1m11 0h1m162 0h1m9 0h1m3 0h1m7 0h1m1 0h1m6 0h1m3 0h2m4 0h2m3 0h1m15 0h1m2 0h1m2 0h1m15 0h1m3 0h2m4 0h2m3 0h1m6 0h1m1 0h1m7 0h1m3 0h1m9 0h1m-441 1h1m12 0h1m3 0h1m3 0h1m16 0h8m16 0h1m13 0h2m10 0h3m12 0h2m12 0h1m8 0h1m3 0h1m3 0h1m12 0h1m163 0h1m9 0h1m3 0h1m6 0h1m1 0h1m5 0h1m3 0h1m8 0h1m3 0h1m14 0h1m1 0h1m1 0h1m1 0h1m14 0h1m3 0h1m8 0h1m3 0h1m5 0h1m1 0h1m6 0h1m3 0h1m9 0h1m-439 1h1m11 0h1m4 0h1m2 0h1m40 0h1m15 0h11m16 0h1m11 0h1m8 0h1m2 0h1m4 0h1m11 0h1m164 0h1m9 0h1m4 0h1m5 0h1m2 0h1m3 0h1m3 0h1m10 0h1m2 0h1m14 0h1m1 0h1m1 0h1m1 0h1m14 0h1m2 0h1m10 0h1m3 0h1m3 0h1m2 0h1m5 0h1m4 0h1m9 0h1m-439 1h1m12 0h1m3 0h1m3 0h1m39 0h1m24 0h1m18 0h1m10 0h1m7 0h1m3 0h1m3 0h1m12 0h1m165 0h1m9 0h1m4 0h1m5 0h1m1 0h1m3 0h1m2 0h1m12 0h1m2 0h1m13 0h1m1 0h1m1 0h1m1 0h1m13 0h1m2 0h1m12 0h1m2 0h1m3 0h1m1 0h1m5 0h1m4 0h1m9 0h1m-437 1h1m11 0h1m4 0h1m2 0h1m39 0h1m23 0h1m7 0h5m8 0h1m9 0h1m7 0h1m2 0h1m4 0h1m11 0h1m167 0h1m9 0h1m4 0h1m4 0h1m1 0h1m3 0h1m2 0h1m12 0h1m2 0h1m13 0h1m1 0h1m1 0h1m1 0h1m13 0h1m2 0h1m12 0h1m2 0h1m3 0h1m1 0h1m4 0h1m4 0h1m9 0h1m-436 1h1m12 0h1m4 0h1m2 0h1m38 0h1m22 0h1m6 0h2m5 0h3m6 0h1m8 0h1m6 0h1m2 0h1m4 0h1m12 0h1m167 0h1m10 0h1m4 0h1m3 0h1m2 0h1m1 0h1m2 0h1m13 0h1m2 0h1m12 0h1m1 0h1m3 0h1m1 0h1m12 0h1m2 0h1m13 0h1m2 0h1m1 0h1m2 0h1m3 0h1m4 0h1m10 0h1m-435 1h1m11 0h1m4 0h1m3 0h1m37 0h1m22 0h1m5 0h1m10 0h1m5 0h1m8 0h1m5 0h1m3 0h1m4 0h1m11 0h1m169 0h1m10 0h1m4 0h1m3 0h1m1 0h1m1 0h1m2 0h1m13 0h1m2 0h1m12 0h1m1 0h1m3 0h1m1 0h1m12 0h1m2 0h1m13 0h1m2 0h1m1 0h1m1 0h1m3 0h1m4 0h1m10 0h1m-434 1h1m12 0h1m4 0h1m2 0h1m37 0h1m21 0h1m5 0h1m12 0h1m5 0h1m7 0h1m5 0h1m2 0h1m4 0h1m12 0h1m170 0h1m10 0h1m4 0h1m2 0h1m2 0h2m2 0h1m13 0h1m2 0h1m11 0h1m2 0h1m3 0h1m2 0h1m11 0h1m2 0h1m13 0h1m2 0h2m2 0h1m2 0h1m4 0h1m10 0h1m-432 1h1m11 0h1m4 0h1m3 0h1m37 0h1m20 0h1m4 0h1m14 0h1m4 0h1m6 0h1m5 0h1m3 0h1m4 0h1m11 0h1m172 0h1m10 0h1m4 0h1m2 0h1m1 0h1m1 0h1m2 0h1m12 0h1m2 0h1m11 0h1m1 0h1m5 0h1m1 0h1m11 0h1m2 0h1m12 0h1m2 0h1m1 0h1m1 0h1m2 0h1m4 0h1m10 0h1m-431 1h1m12 0h1m4 0h1m3 0h1m36 0h1m19 0h1m5 0h1m14 0h1m4 0h1m6 0h1m4 0h1m3 0h1m4 0h1m12 0h1m172 0h1m11 0h1m4 0h1m1 0h1m2 0h2m2 0h1m12 0h1m2 0h1m10 0h1m1 0h1m7 0h1m1 0h1m10 0h1m2 0h1m12 0h1m2 0h2m2 0h1m1 0h1m4 0h1m11 0h1m-430 1h1m12 0h1m4 0h1m3 0h1m35 0h1m19 0h1m4 0h1m15 0h1m5 0h1m5 0h1m3 0h1m3 0h1m4 0h1m12 0h1m174 0h1m11 0h1m4 0h1m1 0h1m2 0h1m2 0h1m11 0h1m3 0h1m9 0h1m2 0h1m7 0h1m2 0h1m9 0h1m3 0h1m11 0h1m2 0h1m2 0h1m1 0h1m4 0h1m11 0h1m-429 1h1m12 0h1m5 0h1m2 0h1m36 0h1m18 0h1m4 0h1m16 0h1m4 0h1m4 0h1m4 0h1m2 0h1m5 0h1m12 0h1m175 0h1m11 0h1m4 0h1m1 0h1m1 0h2m2 0h1m10 0h1m2 0h1m9 0h1m2 0h1m9 0h1m2 0h1m9 0h1m2 0h1m10 0h1m2 0h2m1 0h1m1 0h1m4 0h1m11 0h1m-427 1h1m12 0h1m4 0h1m3 0h1m35 0h1m18 0h1m4 0h1m16 0h1m4 0h1m4 0h1m3 0h1m3 0h1m4 0h1m12 0h1m177 0h1m11 0h1m4 0h3m1 0h2m2 0h1m7 0h2m3 0h1m8 0h1m2 0h1m11 0h1m2 0h1m8 0h1m3 0h2m7 0h1m2 0h2m1 0h3m4 0h1m11 0h1m-426 1h1m13 0h1m4 0h1m3 0h1m35 0h1m17 0h1m4 0h1m16 0h1m4 0h1m3 0h1m3 0h1m3 0h1m4 0h1m13 0h1m178 0h1m11 0h1m5 0h2m1 0h2m2 0h7m4 0h1m8 0h1m2 0h1m13 0h1m2 0h1m8 0h1m4 0h7m2 0h2m1 0h2m5 0h1m11 0h1m-424 1h1m13 0h1m4 0h1m3 0h1m34 0h1m17 0h1m4 0h1m16 0h1m4 0h1m3 0h1m2 0h1m3 0h1m4 0h1m13 0h1m180 0h1m11 0h2m4 0h2m1 0h2m11 0h1m7 0h2m2 0h1m15 0h1m2 0h2m7 0h1m11 0h2m1 0h2m4 0h2m11 0h1m-423 1h1m13 0h1m5 0h1m3 0h1m34 0h1m16 0h1m4 0h1m15 0h1m5 0h1m2 0h1m2 0h1m3 0h1m5 0h1m13 0h1m181 0h1m12 0h1m5 0h1m1 0h4m6 0h2m6 0h2m3 0h1m17 0h1m3 0h2m6 0h2m6 0h4m1 0h1m5 0h1m12 0h1m-421 1h1m13 0h1m5 0h1m3 0h1m33 0h1m16 0h1m5 0h1m14 0h1m4 0h1m3 0h1m1 0h1m3 0h1m5 0h1m13 0h1m183 0h1m12 0h1m5 0h2m1 0h8m5 0h3m3 0h2m19 0h2m3 0h3m5 0h8m1 0h2m5 0h1m12 0h1m-419 1h1m13 0h1m5 0h1m3 0h1m33 0h1m16 0h1m4 0h1m14 0h1m4 0h1m2 0h1m1 0h1m3 0h1m5 0h1m13 0h1m185 0h1m12 0h2m5 0h2m4 0h8m4 0h2m23 0h2m4 0h8m4 0h2m5 0h2m12 0h1m-418 1h1m14 0h1m5 0h1m3 0h1m33 0h1m15 0h1m5 0h1m12 0h1m5 0h1m1 0h1m1 0h1m3 0h1m5 0h1m14 0h1m186 0h1m13 0h1m6 0h3m10 0h3m27 0h3m10 0h3m6 0h1m13 0h1m-416 1h1m14 0h1m5 0h1m3 0h1m33 0h1m14 0h1m6 0h1m10 0h1m5 0h1m1 0h1m1 0h1m3 0h1m5 0h1m14 0h1m188 0h2m12 0h2m6 0h11m33 0h11m6 0h2m12 0h2m-414 1h1m14 0h1m5 0h1m3 0h2m31 0h1m15 0h1m6 0h2m6 0h2m6 0h1m1 0h2m3 0h1m5 0h1m14 0h1m191 0h1m13 0h2m6 0h2m47 0h2m6 0h2m13 0h1m-411 1h1m14 0h1m5 0h1m4 0h1m31 0h2m14 0h1m7 0h6m7 0h3m4 0h1m5 0h1m14 0h1m193 0h1m14 0h2m6 0h3m41 0h3m6 0h2m14 0h1m-410 1h1m15 0h1m5 0h1m4 0h2m31 0h1m14 0h1m18 0h3m4 0h1m5 0h1m15 0h1m194 0h1m15 0h2m7 0h4m33 0h4m7 0h2m15 0h1m-408 1h1m15 0h1m5 0h2m4 0h1m31 0h1m14 0h1m16 0h2m4 0h2m5 0h1m15 0h1m196 0h2m15 0h3m8 0h4m25 0h4m8 0h3m15 0h2m-406 1h1m15 0h1m6 0h1m4 0h2m30 0h2m13 0h2m12 0h3m4 0h1m6 0h1m15 0h1m199 0h1m17 0h2m10 0h7m11 0h7m10 0h2m17 0h1m-403 1h1m15 0h1m6 0h2m4 0h1m31 0h1m14 0h2m8 0h3m4 0h2m6 0h1m15 0h1m201 0h2m17 0h3m14 0h11m14 0h3m17 0h2m-401 1h1m15 0h2m6 0h1m4 0h2m30 0h3m13 0h10m4 0h1m6 0h2m15 0h1m204 0h2m18 0h4m31 0h4m18 0h2m-398 1h1m16 0h1m6 0h2m4 0h3m30 0h3m14 0h4m4 0h2m6 0h1m16 0h1m207 0h2m20 0h5m21 0h5m20 0h2m-395 1h1m16 0h1m7 0h2m5 0h2m31 0h6m2 0h7m5 0h2m7 0h1m16 0h1m210 0h1m24 0h21m24 0h1m-392 1h1m16 0h2m7 0h2m5 0h3m34 0h2m2 0h3m5 0h2m7 0h2m16 0h1m212 0h3m63 0h3m-390 1h1m17 0h2m7 0h2m6 0h3m32 0h3m6 0h2m7 0h2m17 0h1m216 0h2m59 0h2m-386 1h1m18 0h1m8 0h2m7 0h4m24 0h4m7 0h2m8 0h1m18 0h1m219 0h2m55 0h2m-383 1h1m18 0h2m8 0h3m8 0h7m10 0h7m8 0h3m8 0h2m18 0h1m222 0h3m49 0h3m-380 1h1m19 0h2m9 0h3m12 0h10m12 0h3m9 0h2m19 0h1m226 0h3m43 0h3m-376 1h2m19 0h2m10 0h5m24 0h5m10 0h2m19 0h2m230 0h4m35 0h4m-371 1h1m20 0h3m12 0h6m12 0h6m12 0h3m20 0h1m236 0h5m25 0h5m-366 1h1m22 0h3m15 0h12m15 0h3m22 0h1m242 0h12m1 0h12m-360 1h2m23 0h3m36 0h3m23 0h2m255 0h1m-346 1h1m25 0h4m28 0h4m25 0h1m-87 1h2m27 0h6m16 0h6m27 0h2m-84 1h1m32 0h16m32 0h1m-81 1h2m76 0h2m-78 1h2m72 0h2m-74 1h2m68 0h2m-70 1h2m64 0h2m-66 1h3m58 0h3m-61 1h2m54 0h2m-56 1h3m48 0h3m-51 1h3m42 0h3m-45 1h5m32 0h5m-37 1h5m22 0h5m-27 1h22m-26 24h17m-24 1h7m17 0h7m-35 1h4m31 0h4m-43 1h4m39 0h4m-50 1h3m47 0h3m-56 1h3m53 0h3m-61 1h2m59 0h2m-66 1h3m63 0h3m-71 1h2m69 0h2m-75 1h2m73 0h2m-78 1h1m77 0h1m268 0h13m-362 1h2m79 0h2m259 0h7m13 0h8m-372 1h2m31 0h21m31 0h2m252 0h5m28 0h5m-378 1h1m28 0h5m21 0h5m28 0h1m247 0h4m38 0h4m-384 1h2m25 0h4m31 0h4m25 0h2m242 0h3m46 0h3m-388 1h1m24 0h3m39 0h3m24 0h1m238 0h3m52 0h3m-393 1h2m22 0h3m17 0h11m17 0h3m22 0h2m233 0h3m58 0h2m-396 1h1m22 0h2m13 0h7m11 0h7m13 0h2m22 0h1m230 0h2m63 0h2m-399 1h1m21 0h2m11 0h4m25 0h4m11 0h2m21 0h1m227 0h2m67 0h3m-403 1h1m20 0h2m9 0h4m11 0h11m11 0h4m9 0h2m20 0h1m224 0h2m72 0h2m-406 1h1m19 0h2m8 0h3m8 0h7m11 0h7m8 0h3m8 0h2m19 0h1m221 0h2m76 0h1m-409 1h2m18 0h2m8 0h2m7 0h4m25 0h4m7 0h2m8 0h2m18 0h2m217 0h2m79 0h2m-412 1h1m18 0h2m8 0h2m6 0h3m33 0h3m6 0h2m8 0h2m18 0h1m215 0h1m83 0h2m-415 1h1m18 0h1m8 0h2m5 0h3m39 0h3m5 0h2m8 0h1m18 0h1m212 0h2m86 0h1m-417 1h1m17 0h2m7 0h2m5 0h2m33 0h14m5 0h2m7 0h2m17 0h1m210 0h1m35 0h20m34 0h2m-420 1h1m17 0h1m7 0h2m4 0h3m32 0h3m12 0h5m4 0h2m7 0h1m17 0h1m207 0h2m30 0h6m20 0h5m31 0h1m-422 1h1m17 0h1m6 0h2m4 0h2m32 0h3m12 0h10m4 0h2m6 0h1m17 0h1m205 0h1m29 0h3m31 0h4m28 0h2m-424 1h1m15 0h2m6 0h1m5 0h1m32 0h2m13 0h2m8 0h3m5 0h1m6 0h2m15 0h1m204 0h1m26 0h4m38 0h3m27 0h1m-426 1h1m15 0h1m7 0h1m4 0h2m32 0h1m13 0h2m13 0h2m4 0h1m7 0h1m15 0h1m201 0h2m25 0h2m45 0h3m25 0h1m-428 1h1m15 0h1m6 0h2m3 0h2m32 0h2m13 0h1m16 0h3m3 0h2m6 0h1m15 0h1m199 0h1m24 0h3m50 0h2m24 0h1m-430 1h1m15 0h1m6 0h1m4 0h1m33 0h1m14 0h1m19 0h2m4 0h1m6 0h1m15 0h1m197 0h1m23 0h2m55 0h2m23 0h2m-433 1h1m15 0h1m6 0h1m4 0h1m33 0h1m14 0h1m8 0h5m8 0h2m4 0h1m6 0h1m15 0h1m195 0h1m22 0h2m22 0h16m21 0h2m23 0h1m-435 1h1m15 0h1m6 0h1m3 0h2m33 0h1m14 0h1m6 0h3m5 0h2m6 0h1m1 0h2m3 0h1m6 0h1m15 0h1m193 0h1m21 0h2m18 0h6m16 0h5m18 0h2m22 0h1m-436 1h1m14 0h1m5 0h2m3 0h1m34 0h1m15 0h1m5 0h1m10 0h1m6 0h1m1 0h2m3 0h2m5 0h1m14 0h1m192 0h1m21 0h1m16 0h4m27 0h4m16 0h2m21 0h1m-438 1h1m14 0h1m5 0h1m4 0h1m34 0h1m15 0h1m5 0h1m12 0h1m6 0h2m1 0h1m4 0h1m5 0h1m14 0h1m190 0h1m20 0h2m14 0h3m10 0h15m10 0h3m15 0h2m20 0h1m-440 1h1m14 0h1m5 0h1m4 0h1m34 0h1m16 0h1m4 0h1m14 0h1m5 0h1m1 0h1m1 0h1m4 0h1m5 0h1m14 0h1m188 0h1m19 0h2m14 0h2m8 0h5m15 0h6m7 0h3m14 0h1m20 0h1m-441 1h1m13 0h1m5 0h1m4 0h1m34 0h1m16 0h1m5 0h1m15 0h1m4 0h1m2 0h1m1 0h1m4 0h1m5 0h1m13 0h1m187 0h1m19 0h1m13 0h3m6 0h4m26 0h4m6 0h2m13 0h1m20 0h1m-443 1h1m13 0h1m5 0h1m4 0h1m35 0h1m16 0h1m4 0h1m16 0h1m5 0h1m2 0h1m1 0h1m4 0h1m5 0h1m13 0h1m185 0h1m19 0h1m12 0h2m6 0h3m34 0h3m5 0h2m12 0h2m19 0h1m-445 1h1m14 0h1m4 0h1m4 0h1m35 0h1m17 0h1m4 0h1m17 0h1m4 0h1m2 0h1m2 0h1m4 0h1m4 0h1m14 0h1m183 0h1m18 0h2m11 0h2m5 0h3m40 0h2m5 0h2m12 0h1m19 0h1m-446 1h1m13 0h1m5 0h1m3 0h1m35 0h1m18 0h1m4 0h1m17 0h1m4 0h1m3 0h1m2 0h1m3 0h1m5 0h1m13 0h1m182 0h1m18 0h1m12 0h1m5 0h8m33 0h8m5 0h2m11 0h1m18 0h1m-447 1h1m13 0h1m5 0h1m3 0h1m36 0h1m18 0h1m4 0h1m17 0h1m4 0h1m3 0h1m3 0h1m3 0h1m5 0h1m13 0h1m180 0h1m18 0h1m11 0h2m4 0h4m2 0h3m1 0h4m25 0h4m2 0h3m1 0h4m5 0h1m11 0h2m17 0h1m-449 1h1m13 0h1m5 0h1m3 0h1m36 0h1m19 0h1m4 0h1m17 0h1m4 0h1m4 0h1m3 0h1m3 0h1m5 0h1m13 0h1m178 0h1m18 0h1m11 0h1m4 0h2m1 0h5m3 0h4m1 0h2m21 0h2m1 0h5m3 0h4m1 0h2m4 0h2m11 0h1m17 0h1m-450 1h1m13 0h1m4 0h1m3 0h1m37 0h1m19 0h1m4 0h1m17 0h1m4 0h1m4 0h1m4 0h1m3 0h1m4 0h1m13 0h1m178 0h1m17 0h1m10 0h2m4 0h1m1 0h7m7 0h5m18 0h1m1 0h2m7 0h10m4 0h1m11 0h1m17 0h1m-452 1h1m13 0h1m4 0h1m3 0h1m38 0h1m19 0h1m4 0h1m16 0h1m5 0h1m5 0h1m4 0h1m3 0h1m4 0h1m13 0h1m176 0h1m17 0h1m10 0h1m4 0h5m6 0h2m8 0h1m1 0h1m15 0h4m7 0h2m7 0h2m1 0h2m3 0h2m10 0h1m17 0h1m-453 1h1m12 0h1m5 0h1m2 0h1m38 0h1m20 0h1m5 0h1m15 0h1m4 0h1m6 0h1m5 0h1m2 0h1m5 0h1m12 0h1m175 0h1m17 0h1m9 0h2m3 0h2m1 0h2m10 0h1m8 0h3m13 0h1m1 0h1m8 0h1m11 0h4m4 0h1m10 0h1m16 0h1m-454 1h1m13 0h1m4 0h1m3 0h1m38 0h1m21 0h1m5 0h1m13 0h1m5 0h1m6 0h1m5 0h1m3 0h1m4 0h1m13 0h1m173 0h1m17 0h1m9 0h1m4 0h2m1 0h2m3 0h6m3 0h1m9 0h2m11 0h1m1 0h1m8 0h1m3 0h7m3 0h4m4 0h1m10 0h1m16 0h1m-455 1h1m12 0h1m4 0h1m3 0h1m39 0h1m21 0h1m5 0h1m12 0h1m5 0h1m7 0h1m6 0h1m3 0h1m4 0h1m12 0h1m173 0h1m16 0h1m9 0h1m4 0h2m1 0h2m2 0h2m6 0h1m3 0h1m9 0h2m9 0h1m1 0h1m9 0h1m2 0h1m7 0h1m3 0h5m3 0h1m10 0h1m16 0h1m-457 1h1m13 0h1m4 0h1m2 0h1m40 0h1m22 0h1m5 0h2m9 0h1m6 0h1m8 0h1m6 0h1m2 0h1m4 0h1m13 0h1m171 0h1m16 0h1m9 0h1m4 0h2m1 0h2m2 0h1m9 0h1m2 0h1m10 0h2m7 0h1m1 0h1m9 0h1m2 0h1m9 0h1m2 0h1m1 0h2m1 0h1m3 0h1m10 0h1m16 0h1m-458 1h1m12 0h1m4 0h1m3 0h1m39 0h1m23 0h1m7 0h2m5 0h2m6 0h1m9 0h1m6 0h1m3 0h1m4 0h1m12 0h1m170 0h1m16 0h1m9 0h1m3 0h2m1 0h2m1 0h1m2 0h1m10 0h1m2 0h1m9 0h1m1 0h1m6 0h2m10 0h1m2 0h1m10 0h1m2 0h2m1 0h1m1 0h1m3 0h2m8 0h1m16 0h1m-459 1h1m12 0h1m5 0h1m2 0h1m40 0h1m24 0h1m8 0h5m8 0h1m9 0h1m7 0h1m2 0h1m5 0h1m12 0h1m169 0h1m15 0h1m9 0h1m3 0h1m2 0h1m1 0h1m1 0h1m2 0h1m10 0h1m2 0h1m10 0h2m5 0h1m1 0h1m9 0h1m2 0h1m11 0h1m2 0h1m1 0h2m2 0h1m4 0h1m8 0h1m16 0h1m-460 1h1m12 0h1m4 0h1m2 0h1m41 0h1m25 0h1m19 0h1m10 0h1m8 0h1m2 0h1m4 0h1m12 0h1m168 0h1m15 0h1m9 0h1m3 0h1m3 0h2m2 0h1m1 0h1m11 0h1m2 0h1m11 0h2m4 0h2m10 0h1m2 0h1m11 0h1m2 0h1m2 0h2m2 0h1m3 0h1m9 0h1m15 0h1m-460 1h1m11 0h1m4 0h1m3 0h1m41 0h1m17 0h7m2 0h1m16 0h2m11 0h1m8 0h1m3 0h1m4 0h1m11 0h1m168 0h1m15 0h1m8 0h1m3 0h1m3 0h2m3 0h1m1 0h1m11 0h1m2 0h1m11 0h2m3 0h2m11 0h1m2 0h1m11 0h1m2 0h1m2 0h2m3 0h1m3 0h1m9 0h1m15 0h1m-462 1h1m12 0h1m4 0h1m2 0h1m42 0h1m15 0h2m7 0h5m13 0h1m13 0h1m9 0h1m2 0h1m4 0h1m12 0h1m166 0h1m15 0h1m8 0h1m3 0h1m4 0h2m3 0h1m1 0h1m11 0h1m2 0h1m11 0h1m1 0h1m2 0h2m11 0h1m2 0h1m11 0h1m2 0h1m2 0h1m1 0h1m3 0h1m3 0h1m9 0h1m15 0h1m-463 1h1m12 0h1m3 0h1m3 0h1m14 0h14m14 0h1m13 0h2m12 0h5m7 0h3m14 0h1m9 0h1m3 0h1m3 0h1m12 0h1m165 0h1m15 0h1m8 0h1m3 0h1m4 0h1m1 0h1m3 0h1m2 0h1m10 0h1m2 0h1m12 0h2m1 0h1m1 0h1m12 0h1m1 0h1m11 0h1m2 0h1m3 0h2m4 0h1m3 0h1m8 0h1m15 0h1m-464 1h1m12 0h1m4 0h1m2 0h1m12 0h3m14 0h3m11 0h1m12 0h1m16 0h1m2 0h7m17 0h1m10 0h1m2 0h1m4 0h1m12 0h1m164 0h1m15 0h1m8 0h1m2 0h1m5 0h2m4 0h1m2 0h1m9 0h1m3 0h1m12 0h2m1 0h2m13 0h1m2 0h1m9 0h1m2 0h1m4 0h2m5 0h1m3 0h1m8 0h1m15 0h1m-465 1h1m12 0h1m4 0h1m2 0h1m10 0h2m20 0h3m8 0h1m11 0h1m18 0h1m25 0h1m10 0h1m2 0h1m4 0h1m12 0h1m163 0h1m15 0h1m8 0h1m3 0h1m5 0h2m5 0h1m2 0h1m8 0h1m2 0h1m13 0h2m1 0h2m13 0h1m3 0h1m7 0h1m3 0h1m4 0h2m6 0h1m3 0h1m8 0h1m14 0h1m-465 1h1m11 0h1m4 0h1m2 0h1m9 0h2m25 0h2m6 0h1m10 0h1m7 0h5m8 0h1m24 0h1m11 0h1m2 0h1m4 0h1m11 0h1m163 0h1m14 0h1m8 0h1m3 0h1m6 0h2m5 0h1m3 0h2m4 0h2m2 0h1m14 0h1m1 0h3m14 0h1m3 0h2m3 0h2m3 0h1m5 0h1m1 0h1m6 0h1m2 0h1m8 0h1m15 0h1m-467 1h1m12 0h1m4 0h1m2 0h1m7 0h2m29 0h1m5 0h1m9 0h1m6 0h2m5 0h3m6 0h1m23 0h1m11 0h1m2 0h1m4 0h1m12 0h1m161 0h1m15 0h1m7 0h1m3 0h1m7 0h2m6 0h1m4 0h4m3 0h7m10 0h4m10 0h6m4 0h3m4 0h1m7 0h2m6 0h1m3 0h1m8 0h1m14 0h1m-467 1h1m12 0h1m3 0h1m3 0h1m6 0h1m32 0h2m4 0h1m7 0h1m6 0h1m10 0h1m5 0h1m23 0h1m11 0h1m3 0h1m3 0h1m12 0h1m161 0h1m14 0h1m8 0h1m2 0h1m8 0h2m7 0h2m8 0h2m6 0h2m8 0h4m8 0h2m6 0h2m8 0h1m8 0h2m7 0h1m3 0h1m7 0h1m15 0h1m-468 1h1m11 0h1m4 0h1m2 0h1m6 0h1m35 0h1m3 0h1m7 0h1m5 0h1m12 0h1m5 0h1m21 0h1m13 0h1m2 0h1m4 0h1m11 0h1m160 0h1m15 0h1m7 0h1m3 0h1m8 0h2m9 0h8m10 0h1m7 0h4m7 0h1m10 0h8m9 0h2m8 0h1m3 0h1m7 0h1m14 0h1m-468 1h1m11 0h1m4 0h1m2 0h1m5 0h1m37 0h1m2 0h1m6 0h1m5 0h1m14 0h1m4 0h1m21 0h1m13 0h1m2 0h1m4 0h1m11 0h1m160 0h1m14 0h1m7 0h1m3 0h1m9 0h2m15 0h1m3 0h6m3 0h1m5 0h1m1 0h3m6 0h1m3 0h6m3 0h1m14 0h1m1 0h1m9 0h1m2 0h1m8 0h1m13 0h1m-469 1h1m12 0h1m3 0h1m2 0h1m5 0h1m39 0h1m1 0h1m6 0h1m4 0h1m15 0h1m5 0h1m20 0h1m14 0h1m2 0h1m3 0h1m12 0h1m159 0h1m13 0h1m8 0h1m2 0h1m10 0h2m14 0h1m2 0h2m6 0h1m2 0h1m5 0h1m1 0h3m5 0h1m3 0h1m6 0h1m3 0h1m13 0h1m1 0h1m9 0h1m3 0h1m7 0h1m14 0h1m-470 1h1m11 0h1m4 0h1m2 0h1m4 0h1m41 0h1m1 0h1m5 0h1m4 0h1m16 0h1m4 0h1m20 0h1m14 0h1m2 0h1m4 0h1m11 0h1m158 0h1m14 0h1m7 0h1m3 0h1m10 0h2m13 0h1m2 0h1m9 0h1m2 0h1m4 0h2m1 0h2m4 0h1m3 0h1m8 0h1m2 0h1m13 0h2m11 0h1m2 0h1m8 0h1m13 0h1m-470 1h1m11 0h1m4 0h1m2 0h1m3 0h1m43 0h2m5 0h1m4 0h1m16 0h1m4 0h1m19 0h1m15 0h1m2 0h1m4 0h1m11 0h1m158 0h1m13 0h1m8 0h1m2 0h1m11 0h1m1 0h1m12 0h1m2 0h1m10 0h1m1 0h1m4 0h2m1 0h1m1 0h1m3 0h1m2 0h1m10 0h1m2 0h1m12 0h2m11 0h1m3 0h1m7 0h1m14 0h1m-471 1h1m11 0h1m3 0h1m2 0h1m3 0h1m45 0h1m4 0h1m5 0h1m16 0h1m4 0h1m19 0h1m16 0h1m2 0h1m3 0h1m11 0h1m157 0h1m14 0h1m7 0h1m2 0h1m13 0h2m12 0h1m1 0h1m11 0h1m2 0h1m3 0h2m2 0h2m3 0h1m2 0h1m10 0h1m2 0h1m12 0h2m12 0h1m2 0h1m7 0h1m14 0h1m-472 1h1m11 0h1m4 0h1m2 0h1m2 0h1m46 0h2m3 0h1m4 0h1m17 0h1m4 0h1m18 0h1m17 0h1m2 0h1m4 0h1m11 0h1m156 0h1m14 0h1m7 0h1m2 0h1m13 0h2m11 0h1m2 0h1m11 0h1m2 0h1m2 0h1m1 0h1m2 0h2m3 0h1m1 0h1m11 0h1m2 0h1m11 0h1m1 0h1m13 0h1m2 0h1m7 0h1m13 0h1m-472 1h1m11 0h1m4 0h1m2 0h1m2 0h1m47 0h1m3 0h1m5 0h1m16 0h1m4 0h1m18 0h1m17 0h1m2 0h1m4 0h1m11 0h1m156 0h1m13 0h1m7 0h1m2 0h1m14 0h1m1 0h1m10 0h1m2 0h1m11 0h1m2 0h1m2 0h2m3 0h1m1 0h1m2 0h1m1 0h1m11 0h1m2 0h1m11 0h2m14 0h1m2 0h1m7 0h1m14 0h1m-473 1h1m11 0h1m4 0h1m2 0h1m1 0h1m7 0h5m24 0h5m8 0h1m2 0h1m5 0h1m16 0h1m4 0h1m17 0h1m18 0h1m2 0h1m4 0h1m11 0h1m155 0h1m14 0h1m7 0h1m2 0h1m15 0h2m10 0h1m2 0h1m11 0h1m2 0h1m1 0h1m1 0h1m4 0h2m2 0h1m1 0h1m11 0h1m2 0h1m10 0h1m1 0h1m15 0h1m2 0h1m7 0h1m13 0h1m-473 1h1m11 0h1m3 0h1m2 0h1m1 0h1m5 0h3m5 0h4m17 0h3m5 0h4m4 0h2m2 0h1m4 0h1m16 0h1m4 0h1m17 0h1m19 0h1m2 0h1m3 0h1m11 0h1m155 0h1m13 0h1m7 0h1m2 0h1m16 0h1m1 0h1m10 0h1m1 0h1m11 0h1m2 0h1m1 0h2m5 0h1m1 0h1m1 0h1m2 0h1m10 0h1m2 0h1m10 0h2m16 0h1m2 0h1m7 0h1m13 0h1m-473 1h1m11 0h1m3 0h1m2 0h1m1 0h1m3 0h2m12 0h1m14 0h2m12 0h1m4 0h1m2 0h1m4 0h1m15 0h1m5 0h1m16 0h1m20 0h1m2 0h1m3 0h1m11 0h1m155 0h1m13 0h1m7 0h1m2 0h1m17 0h1m1 0h1m9 0h1m2 0h1m9 0h1m2 0h1m1 0h2m7 0h1m1 0h2m2 0h1m10 0h1m2 0h1m9 0h2m17 0h1m3 0h1m7 0h1m13 0h1m-474 1h1m10 0h1m4 0h1m2 0h1m1 0h1m2 0h1m15 0h2m11 0h1m15 0h2m2 0h2m1 0h1m5 0h1m14 0h1m4 0h1m16 0h1m21 0h1m2 0h1m4 0h1m10 0h1m155 0h1m13 0h1m6 0h1m3 0h1m18 0h2m9 0h1m3 0h1m8 0h1m2 0h2m1 0h1m8 0h2m1 0h1m2 0h1m8 0h1m2 0h1m9 0h1m1 0h1m18 0h1m2 0h1m7 0h1m13 0h1m-475 1h1m11 0h1m4 0h1m2 0h2m2 0h1m18 0h1m9 0h1m18 0h1m2 0h2m1 0h1m5 0h1m12 0h1m5 0h1m15 0h1m22 0h1m2 0h1m4 0h1m11 0h1m153 0h1m13 0h1m7 0h1m2 0h1m20 0h2m9 0h1m3 0h1m5 0h2m2 0h2m1 0h1m10 0h3m3 0h2m4 0h2m2 0h1m9 0h1m1 0h1m19 0h1m3 0h1m6 0h1m13 0h1m-475 1h1m11 0h1m4 0h1m2 0h2m1 0h1m8 0h3m9 0h1m7 0h1m8 0h3m9 0h1m1 0h1m1 0h2m6 0h1m10 0h1m6 0h1m15 0h1m22 0h1m2 0h1m4 0h1m11 0h1m153 0h1m13 0h1m7 0h1m2 0h1m21 0h3m8 0h1m3 0h5m3 0h2m1 0h1m12 0h3m4 0h4m4 0h1m8 0h1m1 0h1m21 0h1m2 0h1m7 0h1m13 0h1m-476 1h1m11 0h1m4 0h1m2 0h1m1 0h1m6 0h3m3 0h3m7 0h1m5 0h1m6 0h3m3 0h3m7 0h2m2 0h2m6 0h2m6 0h2m6 0h1m15 0h1m23 0h1m2 0h1m4 0h1m11 0h1m153 0h1m13 0h1m6 0h1m2 0h1m11 0h9m3 0h1m1 0h1m8 0h1m9 0h2m1 0h1m2 0h9m3 0h1m1 0h2m8 0h2m7 0h2m1 0h1m2 0h9m11 0h1m2 0h1m7 0h1m13 0h1m-476 1h1m11 0h1m3 0h1m2 0h3m6 0h1m9 0h2m5 0h1m4 0h1m6 0h1m9 0h2m5 0h2m3 0h2m7 0h6m7 0h1m14 0h2m25 0h1m2 0h1m3 0h1m11 0h1m153 0h1m12 0h1m7 0h1m2 0h1m8 0h3m1 0h7m1 0h3m1 0h1m1 0h2m7 0h3m3 0h3m1 0h5m1 0h7m1 0h3m1 0h1m1 0h4m2 0h3m7 0h2m1 0h5m1 0h7m1 0h3m8 0h1m3 0h1m6 0h1m13 0h1m-476 1h1m11 0h1m3 0h1m2 0h3m5 0h1m12 0h1m5 0h1m3 0h1m5 0h1m12 0h1m5 0h2m3 0h2m18 0h1m14 0h1m27 0h1m2 0h1m3 0h1m11 0h1m152 0h1m13 0h1m7 0h1m2 0h1m6 0h2m1 0h3m7 0h3m1 0h4m1 0h3m7 0h4m1 0h4m1 0h3m7 0h3m1 0h4m1 0h4m8 0h2m1 0h4m1 0h3m7 0h3m1 0h2m7 0h1m2 0h1m6 0h1m13 0h1m-476 1h1m11 0h1m3 0h1m2 0h2m5 0h1m13 0h1m5 0h1m2 0h1m5 0h1m13 0h1m5 0h2m4 0h2m16 0h1m14 0h1m28 0h1m2 0h1m3 0h1m11 0h1m152 0h1m13 0h1m6 0h1m3 0h1m5 0h1m1 0h2m13 0h8m1 0h12m1 0h1m1 0h2m13 0h8m1 0h12m1 0h1m1 0h2m13 0h5m5 0h1m2 0h1m7 0h1m12 0h1m-476 1h1m11 0h1m3 0h1m2 0h2m4 0h1m15 0h1m5 0h1m1 0h1m4 0h1m15 0h1m5 0h1m6 0h1m13 0h2m13 0h2m29 0h1m2 0h1m3 0h1m11 0h1m152 0h1m13 0h1m6 0h1m2 0h1m4 0h4m18 0h1m1 0h1m2 0h10m2 0h4m18 0h1m1 0h1m2 0h10m2 0h4m18 0h1m1 0h1m4 0h1m2 0h1m7 0h1m13 0h1m-477 1h1m11 0h1m3 0h1m2 0h2m4 0h1m16 0h1m4 0h1m1 0h1m4 0h1m16 0h1m4 0h1m7 0h3m8 0h2m13 0h2m31 0h1m2 0h1m3 0h1m11 0h1m152 0h1m12 0h1m7 0h1m2 0h1m3 0h1m1 0h1m21 0h1m1 0h1m12 0h1m1 0h1m21 0h1m1 0h1m12 0h1m1 0h1m21 0h1m1 0h1m4 0h1m2 0h1m6 0h1m13 0h1m-477 1h1m11 0h1m3 0h1m2 0h1m5 0h1m16 0h1m4 0h2m5 0h1m16 0h1m4 0h1m9 0h9m13 0h2m33 0h1m2 0h1m3 0h1m11 0h1m152 0h1m12 0h1m7 0h1m2 0h1m2 0h1m1 0h1m23 0h1m1 0h1m10 0h1m1 0h1m23 0h1m1 0h1m10 0h1m1 0h1m23 0h1m1 0h1m3 0h1m2 0h1m6 0h1m13 0h1m-477 1h1m11 0h1m3 0h1m2 0h1m4 0h1m17 0h1m4 0h2m4 0h1m17 0h1m4 0h1m12 0h3m12 0h4m35 0h1m2 0h1m3 0h1m11 0h1m151 0h1m13 0h1m6 0h1m3 0h1m2 0h2m25 0h1m1 0h1m9 0h2m25 0h1m1 0h1m9 0h2m25 0h1m1 0h1m2 0h1m2 0h1m6 0h1m13 0h1m-477 1h1m11 0h1m3 0h1m2 0h1m4 0h1m17 0h1m4 0h2m4 0h1m17 0h1m4 0h1m15 0h12m39 0h1m2 0h1m3 0h1m11 0h1m151 0h1m13 0h1m6 0h1m2 0h1m2 0h2m27 0h1m1 0h1m7 0h2m27 0h1m1 0h1m7 0h2m27 0h1m1 0h1m1 0h1m2 0h1m7 0h1m12 0h1m-477 1h1m11 0h1m3 0h1m2 0h1m4 0h1m17 0h1m4 0h2m4 0h1m17 0h1m4 0h1m13 0h6m4 0h6m37 0h1m2 0h1m3 0h1m11 0h1m151 0h1m13 0h1m6 0h1m2 0h1m1 0h1m1 0h1m28 0h2m6 0h1m1 0h1m28 0h2m6 0h1m1 0h1m28 0h2m1 0h1m2 0h1m7 0h1m12 0h1m-477 1h1m11 0h1m3 0h1m2 0h1m5 0h1m16 0h1m4 0h2m5 0h1m16 0h1m4 0h1m10 0h5m14 0h3m34 0h1m2 0h1m3 0h1m11 0h1m151 0h1m13 0h1m6 0h1m2 0h1m1 0h2m4 0h4m13 0h5m4 0h2m5 0h2m4 0h4m13 0h5m4 0h2m5 0h2m4 0h4m13 0h5m4 0h2m1 0h1m2 0h1m6 0h1m13 0h1m-478 1h1m11 0h1m3 0h1m2 0h2m4 0h1m16 0h1m4 0h1m1 0h1m4 0h1m16 0h1m4 0h1m8 0h5m2 0h4m13 0h2m32 0h1m2 0h1m3 0h1m11 0h1m151 0h1m12 0h1m7 0h1m2 0h3m2 0h3m4 0h3m8 0h2m5 0h2m2 0h2m4 0h2m2 0h3m4 0h3m8 0h2m5 0h2m2 0h2m4 0h2m2 0h3m4 0h3m8 0h2m5 0h2m2 0h2m1 0h1m2 0h1m6 0h1m13 0h1m-478 1h1m11 0h1m3 0h1m2 0h2m4 0h1m15 0h1m5 0h1m1 0h1m4 0h1m15 0h1m5 0h1m6 0h3m10 0h2m13 0h2m30 0h1m2 0h1m3 0h1m11 0h1m151 0h1m12 0h1m7 0h1m2 0h3m1 0h1m10 0h1m6 0h1m9 0h1m2 0h2m3 0h2m1 0h1m10 0h1m6 0h1m9 0h1m2 0h2m3 0h2m1 0h1m10 0h1m6 0h1m9 0h1m2 0h3m2 0h1m6 0h1m13 0h1m-478 1h1m11 0h1m3 0h1m2 0h2m5 0h1m14 0h1m4 0h1m2 0h1m5 0h1m14 0h1m4 0h2m5 0h2m14 0h2m13 0h1m29 0h1m2 0h1m3 0h1m11 0h1m151 0h1m12 0h1m7 0h1m2 0h2m1 0h1m3 0h6m3 0h1m4 0h1m3 0h5m3 0h1m1 0h2m2 0h2m1 0h1m3 0h6m3 0h1m4 0h1m3 0h5m3 0h1m1 0h2m2 0h2m1 0h1m3 0h6m3 0h1m4 0h1m3 0h5m3 0h1m1 0h3m2 0h1m6 0h1m13 0h1m-478 1h1m11 0h1m3 0h1m2 0h3m5 0h1m12 0h1m5 0h1m3 0h1m5 0h1m12 0h1m5 0h2m3 0h2m18 0h1m13 0h2m27 0h1m2 0h1m3 0h1m11 0h1m151 0h1m12 0h1m6 0h1m2 0h4m3 0h1m6 0h1m3 0h1m2 0h1m2 0h2m5 0h2m2 0h2m1 0h1m1 0h3m3 0h1m6 0h1m3 0h1m2 0h1m2 0h2m5 0h2m2 0h2m1 0h1m1 0h3m3 0h1m6 0h1m3 0h1m2 0h1m2 0h2m5 0h2m2 0h2m1 0h1m2 0h1m6 0h1m13 0h1m-478 1h1m11 0h1m3 0h1m2 0h3m5 0h2m10 0h1m6 0h1m3 0h1m5 0h2m10 0h1m6 0h2m2 0h2m20 0h1m14 0h1m26 0h1m2 0h1m3 0h1m11 0h1m151 0h1m12 0h1m6 0h1m2 0h4m2 0h1m8 0h1m2 0h1m1 0h1m2 0h1m9 0h1m2 0h3m1 0h3m2 0h1m8 0h1m2 0h1m1 0h1m2 0h1m9 0h1m2 0h3m1 0h3m2 0h1m8 0h1m2 0h1m1 0h1m2 0h1m9 0h1m2 0h3m2 0h1m6 0h1m13 0h1m-478 1h1m11 0h1m3 0h1m2 0h2m1 0h1m6 0h1m7 0h2m6 0h1m5 0h1m6 0h1m7 0h2m6 0h2m2 0h2m7 0h8m7 0h1m14 0h1m25 0h1m2 0h1m3 0h1m11 0h1m151 0h1m12 0h1m6 0h1m2 0h1m1 0h1m2 0h1m10 0h1m2 0h2m2 0h1m9 0h1m2 0h4m1 0h1m2 0h1m10 0h1m2 0h2m2 0h1m9 0h1m2 0h4m1 0h1m2 0h1m10 0h1m2 0h2m2 0h1m9 0h1m2 0h3m2 0h1m6 0h1m13 0h1m-478 1h1m11 0h1m4 0h1m2 0h3m7 0h7m7 0h1m6 0h1m7 0h7m7 0h1m1 0h1m1 0h2m6 0h2m8 0h1m6 0h1m15 0h1m23 0h1m2 0h1m4 0h1m11 0h1m151 0h1m12 0h1m6 0h1m2 0h1m1 0h1m2 0h1m10 0h1m2 0h1m2 0h1m11 0h1m2 0h3m1 0h1m2 0h1m10 0h1m2 0h1m2 0h1m11 0h1m2 0h3m1 0h1m2 0h1m10 0h1m2 0h1m2 0h1m11 0h1m2 0h2m2 0h1m6 0h1m13 0h1m-478 1h1m11 0h1m4 0h1m2 0h2m1 0h1m19 0h1m8 0h1m19 0h1m2 0h2m1 0h1m5 0h1m11 0h1m6 0h1m15 0h1m22 0h1m2 0h1m4 0h1m11 0h1m151 0h1m12 0h1m6 0h1m2 0h3m1 0h1m12 0h1m1 0h1m2 0h1m11 0h1m2 0h5m1 0h1m12 0h1m1 0h1m2 0h1m11 0h1m2 0h5m1 0h1m12 0h1m1 0h1m2 0h1m11 0h1m2 0h2m2 0h1m6 0h1m13 0h1m-478 1h1m11 0h1m4 0h1m2 0h2m2 0h1m17 0h1m10 0h1m17 0h1m2 0h2m1 0h1m5 0h1m13 0h1m5 0h1m16 0h1m21 0h1m2 0h1m4 0h1m11 0h1m151 0h1m12 0h1m6 0h1m2 0h3m1 0h1m12 0h1m1 0h1m2 0h1m11 0h1m2 0h5m1 0h1m12 0h1m1 0h1m2 0h1m11 0h1m2 0h5m1 0h1m12 0h1m1 0h1m2 0h1m11 0h1m2 0h2m2 0h1m7 0h1m12 0h1m-477 1h1m11 0h1m3 0h1m2 0h1m1 0h1m2 0h2m14 0h1m12 0h2m14 0h1m3 0h2m1 0h1m5 0h1m14 0h1m5 0h1m16 0h1m20 0h1m2 0h1m3 0h1m11 0h1m152 0h1m12 0h1m6 0h1m2 0h3m1 0h1m12 0h1m1 0h1m2 0h1m11 0h1m2 0h5m1 0h1m12 0h1m1 0h1m2 0h1m11 0h1m2 0h5m1 0h1m12 0h1m1 0h1m2 0h1m11 0h1m2 0h2m2 0h1m6 0h1m13 0h1m-477 1h1m11 0h1m3 0h1m2 0h1m1 0h1m4 0h2m9 0h3m15 0h2m9 0h3m3 0h2m2 0h1m4 0h1m16 0h1m4 0h1m16 0h1m20 0h1m2 0h1m3 0h1m11 0h1m152 0h1m12 0h1m6 0h1m2 0h1m1 0h1m2 0h1m10 0h1m2 0h1m2 0h1m11 0h1m2 0h3m1 0h1m2 0h1m10 0h1m2 0h1m2 0h1m11 0h1m2 0h3m1 0h1m2 0h1m10 0h1m2 0h1m2 0h1m11 0h1m2 0h2m2 0h1m6 0h1m13 0h1m-477 1h1m11 0h1m3 0h1m3 0h1m1 0h1m5 0h9m20 0h9m6 0h1m3 0h1m4 0h1m16 0h1m4 0h1m17 0h1m18 0h1m3 0h1m3 0h1m11 0h1m152 0h1m12 0h1m6 0h1m2 0h1m1 0h1m2 0h1m10 0h1m2 0h2m2 0h1m9 0h1m2 0h4m1 0h1m2 0h1m10 0h1m2 0h2m2 0h1m9 0h1m2 0h4m1 0h1m2 0h1m10 0h1m2 0h2m2 0h1m9 0h1m2 0h3m2 0h1m6 0h1m13 0h1m-477 1h1m11 0h1m4 0h1m2 0h1m1 0h1m48 0h2m2 0h1m5 0h1m16 0h1m4 0h1m18 0h1m17 0h1m2 0h1m4 0h1m11 0h1m152 0h1m12 0h1m6 0h1m2 0h4m2 0h1m8 0h1m2 0h1m1 0h1m2 0h1m9 0h1m2 0h3m1 0h3m2 0h1m8 0h1m2 0h1m1 0h1m2 0h1m9 0h1m2 0h3m1 0h3m2 0h1m8 0h1m2 0h1m1 0h1m2 0h1m9 0h1m2 0h3m2 0h1m6 0h1m13 0h1m-477 1h1m11 0h1m4 0h1m2 0h1m2 0h1m47 0h1m3 0h1m4 0h1m17 0h1m4 0h1m18 0h1m17 0h1m2 0h1m4 0h1m11 0h1m152 0h1m12 0h1m6 0h1m2 0h4m3 0h1m6 0h1m3 0h1m2 0h1m2 0h2m5 0h2m2 0h2m1 0h1m1 0h3m3 0h1m6 0h1m3 0h1m2 0h1m2 0h2m5 0h2m2 0h2m1 0h1m1 0h3m3 0h1m6 0h1m3 0h1m2 0h1m2 0h2m5 0h2m2 0h2m1 0h1m2 0h1m6 0h1m13 0h1m-477 1h1m12 0h1m3 0h1m2 0h1m3 0h1m45 0h2m3 0h1m4 0h1m17 0h1m4 0h1m19 0h1m16 0h1m2 0h1m3 0h1m12 0h1m152 0h1m12 0h1m7 0h1m2 0h2m1 0h1m3 0h6m3 0h1m4 0h1m3 0h5m3 0h1m1 0h2m2 0h2m1 0h1m3 0h6m3 0h1m4 0h1m3 0h5m3 0h1m1 0h2m2 0h2m1 0h1m3 0h6m3 0h1m4 0h1m3 0h5m3 0h1m1 0h3m2 0h1m6 0h1m13 0h1m-476 1h1m11 0h1m3 0h1m3 0h1m2 0h1m44 0h2m4 0h1m5 0h1m16 0h1m4 0h1m19 0h1m15 0h1m3 0h1m3 0h1m11 0h1m153 0h1m12 0h1m7 0h1m2 0h3m1 0h1m10 0h1m6 0h1m9 0h1m2 0h2m3 0h2m1 0h1m10 0h1m6 0h1m9 0h1m2 0h2m3 0h2m1 0h1m10 0h1m6 0h1m9 0h1m2 0h3m2 0h1m6 0h1m13 0h1m-476 1h1m11 0h1m4 0h1m2 0h1m3 0h1m42 0h1m1 0h1m5 0h1m4 0h1m16 0h1m4 0h1m19 0h1m15 0h1m2 0h1m4 0h1m11 0h1m153 0h1m12 0h1m7 0h1m2 0h3m2 0h3m4 0h3m8 0h2m5 0h2m2 0h2m4 0h2m2 0h3m4 0h3m8 0h2m5 0h2m2 0h2m4 0h2m2 0h3m4 0h3m8 0h2m5 0h2m2 0h2m1 0h1m2 0h1m6 0h1m13 0h1m-476 1h1m11 0h1m4 0h1m2 0h1m4 0h1m40 0h1m1 0h1m6 0h1m4 0h1m16 0h1m4 0h1m20 0h1m14 0h1m2 0h1m4 0h1m11 0h1m153 0h1m13 0h1m6 0h1m2 0h1m1 0h2m4 0h4m13 0h5m4 0h2m5 0h2m4 0h4m13 0h5m4 0h2m5 0h2m4 0h4m13 0h5m4 0h2m1 0h1m2 0h1m6 0h1m13 0h1m-476 1h1m12 0h1m3 0h1m3 0h1m4 0h1m38 0h1m2 0h1m6 0h1m5 0h1m14 0h1m5 0h1m20 0h1m13 0h1m3 0h1m3 0h1m12 0h1m153 0h1m13 0h1m6 0h1m2 0h1m1 0h1m1 0h1m28 0h2m6 0h1m1 0h1m28 0h2m6 0h1m1 0h1m28 0h2m1 0h1m2 0h1m7 0h1m12 0h1m-474 1h1m11 0h1m4 0h1m2 0h1m5 0h1m36 0h1m3 0h1m6 0h1m5 0h1m13 0h1m5 0h1m21 0h1m13 0h1m2 0h1m4 0h1m11 0h1m154 0h1m13 0h1m6 0h1m2 0h1m2 0h2m27 0h1m1 0h1m7 0h2m27 0h1m1 0h1m7 0h2m27 0h1m1 0h1m1 0h1m2 0h1m7 0h1m12 0h1m-474 1h1m11 0h1m4 0h1m2 0h1m6 0h2m33 0h1m4 0h1m7 0h1m5 0h1m11 0h1m6 0h1m22 0h1m12 0h1m2 0h1m4 0h1m11 0h1m154 0h1m13 0h1m6 0h1m3 0h1m2 0h2m25 0h1m1 0h1m9 0h2m25 0h1m1 0h1m9 0h2m25 0h1m1 0h1m2 0h1m2 0h1m6 0h1m13 0h1m-474 1h1m12 0h1m3 0h1m3 0h1m7 0h1m30 0h2m4 0h1m9 0h1m5 0h2m8 0h1m6 0h1m23 0h1m11 0h1m3 0h1m3 0h1m12 0h1m155 0h1m12 0h1m7 0h1m2 0h1m2 0h1m1 0h1m23 0h1m1 0h1m10 0h1m1 0h1m23 0h1m1 0h1m10 0h1m1 0h1m23 0h1m1 0h1m3 0h1m2 0h1m6 0h1m13 0h1m-473 1h1m11 0h1m4 0h1m2 0h1m8 0h2m27 0h1m6 0h1m9 0h1m7 0h8m6 0h1m24 0h1m11 0h1m2 0h1m4 0h1m11 0h1m156 0h1m12 0h1m7 0h1m2 0h1m3 0h1m1 0h1m21 0h1m1 0h1m12 0h1m1 0h1m21 0h1m1 0h1m12 0h1m1 0h1m21 0h1m1 0h1m4 0h1m2 0h1m6 0h1m13 0h1m-473 1h1m11 0h1m4 0h1m3 0h1m9 0h2m23 0h2m7 0h1m10 0h1m20 0h1m24 0h1m10 0h1m3 0h1m4 0h1m11 0h1m156 0h1m13 0h1m6 0h1m2 0h1m4 0h4m18 0h1m1 0h1m2 0h10m2 0h4m18 0h1m1 0h1m2 0h10m2 0h4m18 0h1m1 0h1m4 0h1m2 0h1m7 0h1m13 0h1m-473 1h1m12 0h1m4 0h1m2 0h1m11 0h3m17 0h3m9 0h1m11 0h1m17 0h2m25 0h1m10 0h1m2 0h1m4 0h1m12 0h1m156 0h1m13 0h1m6 0h1m3 0h1m5 0h1m1 0h2m13 0h8m1 0h12m1 0h1m1 0h2m13 0h8m1 0h12m1 0h1m1 0h2m13 0h5m5 0h1m2 0h1m7 0h1m12 0h1m-471 1h1m11 0h1m4 0h1m3 0h1m13 0h4m9 0h4m12 0h1m12 0h2m14 0h1m1 0h10m16 0h1m9 0h1m3 0h1m4 0h1m11 0h1m157 0h1m13 0h1m7 0h1m2 0h1m6 0h2m1 0h3m7 0h3m1 0h4m1 0h3m7 0h4m1 0h4m1 0h3m7 0h3m1 0h4m1 0h4m8 0h2m1 0h4m1 0h3m7 0h3m1 0h2m7 0h1m2 0h1m6 0h1m13 0h1m-471 1h1m12 0h1m4 0h1m2 0h1m17 0h9m16 0h1m14 0h2m10 0h4m10 0h2m14 0h1m9 0h1m2 0h1m4 0h1m12 0h1m158 0h1m12 0h1m7 0h1m2 0h1m8 0h3m1 0h7m1 0h3m1 0h1m1 0h2m7 0h3m3 0h3m1 0h5m1 0h7m1 0h3m1 0h1m1 0h4m2 0h3m7 0h2m1 0h5m1 0h7m1 0h3m8 0h1m3 0h1m6 0h1m13 0h1m-471 1h1m12 0h1m4 0h1m3 0h1m41 0h1m16 0h10m1 0h1m14 0h2m12 0h1m8 0h1m3 0h1m4 0h1m12 0h1m158 0h1m13 0h1m6 0h1m2 0h1m11 0h9m3 0h1m1 0h1m8 0h1m9 0h2m1 0h1m2 0h9m3 0h1m1 0h2m8 0h2m7 0h2m1 0h1m2 0h9m11 0h1m2 0h1m7 0h1m13 0h1m-470 1h1m12 0h1m4 0h1m2 0h1m41 0h1m26 0h1m17 0h1m11 0h1m8 0h1m2 0h1m4 0h1m12 0h1m159 0h1m13 0h1m7 0h1m2 0h1m21 0h3m8 0h1m3 0h5m3 0h2m1 0h1m12 0h3m4 0h4m4 0h1m8 0h1m1 0h1m21 0h1m2 0h1m7 0h1m13 0h1m-470 1h1m12 0h1m4 0h1m3 0h1m40 0h1m25 0h1m19 0h1m10 0h1m7 0h1m3 0h1m4 0h1m12 0h1m159 0h1m13 0h1m7 0h1m2 0h1m20 0h2m9 0h1m3 0h1m5 0h2m2 0h2m1 0h1m10 0h3m3 0h2m4 0h2m2 0h1m9 0h1m1 0h1m19 0h1m3 0h1m6 0h1m13 0h1m-468 1h1m12 0h1m4 0h1m2 0h1m40 0h1m24 0h1m7 0h7m7 0h1m9 0h1m7 0h1m2 0h1m4 0h1m12 0h1m161 0h1m13 0h1m6 0h1m3 0h1m18 0h2m9 0h1m3 0h1m8 0h1m2 0h2m1 0h1m8 0h2m1 0h1m2 0h1m8 0h1m2 0h1m9 0h1m1 0h1m18 0h1m2 0h1m7 0h1m13 0h1m-468 1h1m12 0h1m4 0h1m3 0h1m39 0h1m23 0h1m6 0h2m7 0h2m6 0h1m8 0h1m6 0h1m3 0h1m4 0h1m12 0h1m161 0h1m13 0h1m7 0h1m2 0h1m17 0h1m1 0h1m9 0h1m2 0h1m9 0h1m2 0h1m1 0h2m7 0h1m1 0h2m2 0h1m10 0h1m2 0h1m9 0h2m17 0h1m3 0h1m7 0h1m13 0h1m-467 1h1m12 0h1m4 0h1m3 0h1m39 0h1m21 0h1m6 0h1m11 0h1m5 0h1m8 0h1m5 0h1m3 0h1m4 0h1m12 0h1m162 0h1m13 0h1m7 0h1m2 0h1m16 0h1m1 0h1m10 0h1m1 0h1m11 0h1m2 0h1m1 0h2m5 0h1m1 0h1m1 0h1m2 0h1m10 0h1m2 0h1m10 0h2m16 0h1m2 0h1m7 0h1m13 0h1m-466 1h1m12 0h1m5 0h1m2 0h1m39 0h1m21 0h1m5 0h1m13 0h1m5 0h1m6 0h1m6 0h1m2 0h1m5 0h1m12 0h1m162 0h1m14 0h1m7 0h1m2 0h1m15 0h2m10 0h1m2 0h1m11 0h1m2 0h1m1 0h1m1 0h1m4 0h2m2 0h1m1 0h1m11 0h1m2 0h1m10 0h1m1 0h1m15 0h1m2 0h1m7 0h1m13 0h1m-465 1h1m12 0h1m4 0h1m3 0h1m38 0h1m21 0h1m4 0h1m14 0h1m5 0h1m6 0h1m5 0h1m3 0h1m4 0h1m12 0h1m164 0h1m13 0h1m7 0h1m2 0h1m14 0h1m1 0h1m10 0h1m2 0h1m11 0h1m2 0h1m2 0h2m3 0h1m1 0h1m2 0h1m1 0h1m11 0h1m2 0h1m11 0h2m14 0h1m2 0h1m7 0h1m14 0h1m-465 1h1m13 0h1m4 0h1m3 0h1m37 0h1m20 0h1m5 0h1m15 0h1m4 0h1m6 0h1m4 0h1m3 0h1m4 0h1m13 0h1m164 0h1m14 0h1m7 0h1m2 0h1m13 0h2m11 0h1m2 0h1m11 0h1m2 0h1m2 0h1m1 0h1m2 0h2m3 0h1m1 0h1m11 0h1m2 0h1m11 0h1m1 0h1m13 0h1m2 0h1m7 0h1m13 0h1m-463 1h1m12 0h1m5 0h1m3 0h1m37 0h1m19 0h1m4 0h1m16 0h1m5 0h1m4 0h1m4 0h1m3 0h1m5 0h1m12 0h1m165 0h1m14 0h1m7 0h1m2 0h1m13 0h2m12 0h1m1 0h1m11 0h1m2 0h1m3 0h2m2 0h2m3 0h1m2 0h1m10 0h1m2 0h1m12 0h2m12 0h1m2 0h1m7 0h1m14 0h1m-463 1h1m13 0h1m5 0h1m2 0h1m37 0h1m19 0h1m4 0h1m17 0h1m4 0h1m4 0h1m4 0h1m2 0h1m5 0h1m13 0h1m166 0h1m13 0h1m8 0h1m2 0h1m11 0h1m1 0h1m12 0h1m2 0h1m10 0h1m1 0h1m4 0h2m1 0h1m1 0h1m3 0h1m2 0h1m10 0h1m2 0h1m12 0h2m11 0h1m3 0h1m7 0h1m14 0h1m-462 1h1m13 0h1m4 0h1m3 0h1m37 0h1m18 0h1m4 0h1m17 0h1m4 0h1m4 0h1m3 0h1m3 0h1m4 0h1m13 0h1m167 0h1m14 0h1m7 0h1m3 0h1m10 0h2m13 0h1m2 0h1m9 0h1m2 0h1m4 0h2m1 0h2m4 0h1m3 0h1m8 0h1m2 0h1m13 0h2m11 0h1m2 0h1m8 0h1m13 0h1m-461 1h1m13 0h1m5 0h1m3 0h1m36 0h1m18 0h1m4 0h1m17 0h1m4 0h1m3 0h1m3 0h1m3 0h1m5 0h1m13 0h1m168 0h1m13 0h1m8 0h1m2 0h1m10 0h2m14 0h1m2 0h2m6 0h1m2 0h1m5 0h1m1 0h3m5 0h1m3 0h1m6 0h1m3 0h1m13 0h1m1 0h1m9 0h1m3 0h1m7 0h1m14 0h1m-460 1h1m13 0h1m5 0h1m3 0h1m36 0h1m17 0h1m4 0h1m17 0h1m4 0h1m3 0h1m2 0h1m3 0h1m5 0h1m13 0h1m169 0h1m14 0h1m7 0h1m3 0h1m9 0h2m15 0h1m3 0h6m3 0h1m5 0h1m1 0h3m6 0h1m3 0h6m3 0h1m14 0h1m1 0h1m9 0h1m2 0h1m8 0h1m13 0h1m-458 1h1m13 0h1m5 0h1m3 0h1m35 0h1m17 0h1m4 0h1m16 0h1m5 0h1m2 0h1m2 0h1m3 0h1m5 0h1m13 0h1m170 0h1m15 0h1m7 0h1m3 0h1m8 0h2m9 0h8m10 0h1m7 0h4m7 0h1m10 0h8m9 0h2m8 0h1m3 0h1m7 0h1m14 0h1m-458 1h1m14 0h1m5 0h1m3 0h1m35 0h1m16 0h1m5 0h1m15 0h1m4 0h1m2 0h1m2 0h1m3 0h1m5 0h1m14 0h1m171 0h1m14 0h1m8 0h1m2 0h1m8 0h2m7 0h2m8 0h2m6 0h2m8 0h4m8 0h2m6 0h2m8 0h1m8 0h2m7 0h1m3 0h1m7 0h1m15 0h1m-457 1h1m14 0h1m5 0h1m3 0h1m35 0h1m16 0h1m4 0h1m15 0h1m4 0h1m2 0h1m1 0h1m3 0h1m5 0h1m14 0h1m172 0h1m15 0h1m7 0h1m3 0h1m7 0h2m6 0h1m4 0h4m3 0h7m10 0h4m10 0h6m4 0h3m4 0h1m7 0h2m6 0h1m3 0h1m8 0h1m14 0h1m-455 1h1m14 0h1m5 0h1m3 0h1m34 0h1m16 0h1m5 0h1m13 0h1m5 0h1m1 0h1m1 0h1m3 0h1m5 0h1m14 0h1m174 0h1m14 0h1m8 0h1m3 0h1m6 0h2m5 0h1m3 0h2m4 0h2m2 0h1m14 0h1m1 0h3m14 0h1m3 0h2m3 0h2m3 0h1m5 0h1m1 0h1m6 0h1m2 0h1m8 0h1m15 0h1m-455 1h1m15 0h1m5 0h1m3 0h2m33 0h1m15 0h1m6 0h1m11 0h1m5 0h1m1 0h3m3 0h1m5 0h1m15 0h1m174 0h1m15 0h1m8 0h1m3 0h1m5 0h2m5 0h1m2 0h1m8 0h1m2 0h1m13 0h2m1 0h2m13 0h1m3 0h1m7 0h1m3 0h1m4 0h2m6 0h1m3 0h1m8 0h1m14 0h1m-453 1h1m14 0h1m6 0h1m4 0h1m33 0h1m15 0h1m6 0h1m8 0h2m6 0h3m4 0h1m6 0h1m14 0h1m176 0h1m15 0h1m8 0h1m2 0h1m5 0h2m4 0h1m2 0h1m9 0h1m3 0h1m12 0h2m1 0h2m13 0h1m2 0h1m9 0h1m2 0h1m4 0h2m5 0h1m3 0h1m8 0h1m15 0h1m-452 1h1m14 0h1m6 0h1m4 0h1m33 0h1m15 0h1m6 0h8m7 0h3m4 0h1m6 0h1m14 0h1m177 0h1m15 0h1m8 0h1m3 0h1m4 0h1m1 0h1m3 0h1m2 0h1m10 0h1m2 0h1m12 0h2m1 0h1m1 0h1m12 0h1m1 0h1m11 0h1m2 0h1m3 0h2m4 0h1m3 0h1m8 0h1m15 0h1m-450 1h1m14 0h2m5 0h2m3 0h2m32 0h1m15 0h1m19 0h3m3 0h2m5 0h2m14 0h1m179 0h1m15 0h1m8 0h1m3 0h1m4 0h2m3 0h1m1 0h1m11 0h1m2 0h1m11 0h1m1 0h1m2 0h2m11 0h1m2 0h1m11 0h1m2 0h1m2 0h1m1 0h1m3 0h1m3 0h1m9 0h1m15 0h1m-450 1h1m16 0h1m6 0h1m4 0h1m32 0h2m13 0h2m17 0h2m4 0h1m6 0h1m16 0h1m180 0h1m15 0h1m8 0h1m3 0h1m3 0h2m3 0h1m1 0h1m11 0h1m2 0h1m11 0h2m3 0h2m11 0h1m2 0h1m11 0h1m2 0h1m2 0h2m3 0h1m3 0h1m9 0h1m15 0h1m-448 1h1m16 0h1m6 0h1m4 0h2m32 0h1m14 0h1m15 0h2m4 0h1m6 0h1m16 0h1m181 0h1m15 0h1m9 0h1m3 0h1m3 0h2m2 0h1m1 0h1m11 0h1m2 0h1m11 0h2m4 0h2m10 0h1m2 0h1m11 0h1m2 0h1m2 0h2m2 0h1m3 0h1m9 0h1m15 0h1m-446 1h1m16 0h1m6 0h2m4 0h1m32 0h2m13 0h2m11 0h2m4 0h2m6 0h1m16 0h1m183 0h1m15 0h1m9 0h1m3 0h1m2 0h1m1 0h1m1 0h1m2 0h1m10 0h1m2 0h1m10 0h2m5 0h1m1 0h1m9 0h1m2 0h1m11 0h1m2 0h1m1 0h2m2 0h1m4 0h1m8 0h1m16 0h1m-445 1h1m16 0h1m7 0h1m4 0h2m32 0h2m13 0h4m3 0h5m4 0h1m7 0h1m16 0h1m184 0h1m16 0h1m9 0h1m3 0h2m1 0h2m1 0h1m2 0h1m10 0h1m2 0h1m9 0h1m1 0h1m6 0h2m10 0h1m2 0h1m10 0h1m2 0h2m1 0h1m1 0h1m3 0h2m8 0h1m16 0h1m-443 1h1m16 0h2m6 0h2m4 0h2m32 0h3m14 0h6m4 0h2m6 0h2m16 0h1m186 0h1m16 0h1m9 0h1m4 0h2m1 0h2m2 0h1m9 0h1m2 0h1m10 0h2m7 0h1m1 0h1m9 0h1m2 0h1m9 0h1m2 0h1m1 0h2m1 0h1m3 0h1m10 0h1m16 0h1m-442 1h1m17 0h1m7 0h2m4 0h3m32 0h6m5 0h7m4 0h2m7 0h1m17 0h1m188 0h1m16 0h1m9 0h1m4 0h2m1 0h2m2 0h2m6 0h1m3 0h1m9 0h2m9 0h1m1 0h1m9 0h1m2 0h1m7 0h1m3 0h5m3 0h1m10 0h1m16 0h1m-440 1h1m17 0h2m7 0h2m5 0h2m36 0h5m2 0h2m5 0h2m7 0h2m17 0h1m189 0h1m17 0h1m9 0h1m4 0h2m1 0h2m3 0h6m3 0h1m9 0h2m11 0h1m1 0h1m8 0h1m3 0h7m3 0h4m4 0h1m10 0h1m16 0h1m-438 1h1m18 0h1m8 0h2m5 0h3m37 0h3m5 0h2m8 0h1m18 0h1m191 0h1m17 0h1m9 0h2m3 0h2m1 0h2m10 0h1m8 0h3m13 0h1m1 0h1m8 0h1m11 0h4m4 0h1m10 0h1m16 0h1m-436 1h1m18 0h2m8 0h2m6 0h4m29 0h4m6 0h2m8 0h2m18 0h1m193 0h1m17 0h1m10 0h1m4 0h5m6 0h2m8 0h1m1 0h1m15 0h4m7 0h2m7 0h2m1 0h2m3 0h2m10 0h1m17 0h1m-435 1h1m19 0h2m8 0h3m7 0h5m19 0h5m7 0h3m8 0h2m19 0h1m195 0h1m17 0h1m10 0h2m4 0h1m1 0h7m7 0h5m18 0h1m1 0h2m7 0h10m4 0h1m11 0h1m17 0h1m-433 1h1m20 0h2m9 0h3m9 0h19m9 0h3m9 0h2m20 0h1m196 0h1m18 0h1m11 0h1m4 0h2m1 0h5m3 0h4m1 0h2m21 0h2m1 0h5m3 0h4m1 0h2m4 0h2m11 0h1m17 0h1m-431 1h1m21 0h2m10 0h4m29 0h4m10 0h2m21 0h1m198 0h1m18 0h1m11 0h2m4 0h4m2 0h3m1 0h4m25 0h4m2 0h3m1 0h4m5 0h1m11 0h2m17 0h1m-429 1h2m21 0h2m12 0h5m19 0h5m12 0h2m21 0h2m200 0h1m18 0h1m12 0h1m5 0h8m33 0h8m5 0h2m11 0h1m18 0h1m-426 1h1m22 0h3m14 0h19m14 0h3m22 0h1m203 0h1m18 0h2m11 0h2m5 0h3m40 0h2m5 0h2m12 0h1m19 0h1m-425 1h1m24 0h2m43 0h2m24 0h1m205 0h1m19 0h1m12 0h2m6 0h3m34 0h3m5 0h2m12 0h2m19 0h1m-423 1h2m24 0h4m35 0h4m24 0h2m207 0h1m19 0h1m13 0h3m6 0h4m26 0h4m6 0h2m13 0h1m20 0h1m-420 1h1m27 0h4m27 0h4m27 0h1m210 0h1m19 0h2m14 0h2m8 0h5m15 0h6m7 0h3m14 0h1m20 0h1m-418 1h2m29 0h8m11 0h8m29 0h2m212 0h1m20 0h2m14 0h3m10 0h15m10 0h3m15 0h2m20 0h1m-415 1h2m35 0h11m35 0h2m215 0h1m21 0h1m16 0h4m27 0h4m16 0h2m21 0h1m-412 1h1m79 0h1m218 0h1m21 0h2m18 0h6m16 0h5m18 0h2m22 0h1m-410 1h2m75 0h2m220 0h1m22 0h2m22 0h16m21 0h2m23 0h1m-407 1h2m71 0h2m223 0h1m23 0h2m55 0h2m23 0h2m-404 1h3m65 0h3m226 0h1m24 0h3m50 0h2m24 0h1m-399 1h2m61 0h2m230 0h2m25 0h2m45 0h3m25 0h1m-396 1h2m57 0h2m234 0h1m26 0h4m38 0h3m27 0h1m-393 1h3m51 0h3m237 0h1m29 0h3m31 0h4m28 0h2m-389 1h4m43 0h4m241 0h2m30 0h6m20 0h5m31 0h1m-383 1h4m35 0h4m247 0h1m35 0h20m34 0h2m-378 1h5m25 0h5m252 0h2m86 0h1m-371 1h12m1 0h12m259 0h1m83 0h2m-358 1h1m272 0h2m79 0h2m-81 1h2m76 0h1m-77 1h2m72 0h2m-74 1h2m67 0h3m-70 1h2m63 0h2m-65 1h3m58 0h2m-60 1h3m52 0h3m-55 1h3m46 0h3m-49 1h4m38 0h4m-42 1h5m28 0h5m-33 1h7m13 0h8m-21 1h13"/>
<circle cx="144.50" cy="52.50" r="2.6" fill="#ff7f00" stroke="none" shape-rendering="crispEdges"/>
<circle cx="121.60" cy="110.00" r="2.6" fill="#ff7f00" stroke="none" shape-rendering="crispEdges"/>
<circle cx="192.00" cy="101.00" r="2.6" fill="#ff7f00" stroke="none" shape-rendering="crispEdges"/>
<polyline points="176.3,44.4 244.0,30.0 259.0,30.0"/>
<polyline points="187.0,53.3 227.0,49.0 259.0,49.0"/>
<polyline points="193.0,71.6 230.0,66.7 259.0,66.7"/>
<polyline points="216.7,84.2 259.0,84.2"/>
<polyline points="192.3,101.6 259.0,101.6"/>
<polyline points="213.9,114.2 246.0,120.4 259.0,120.4"/>
<polyline points="210.4,133.0 243.9,137.9 259.0,137.9"/>
<rect x="458" y="37" width="4" height="4" fill="#ff7f00" stroke="none" shape-rendering="crispEdges"/>
<rect x="501" y="56" width="4" height="4" fill="#ff7f00" stroke="none" shape-rendering="crispEdges"/>
<rect x="423" y="65" width="4" height="4" fill="#ff7f00" stroke="none" shape-rendering="crispEdges"/>
<rect x="465" y="101" width="4" height="4" fill="#ff7f00" stroke="none" shape-rendering="crispEdges"/>
<rect x="506" y="101" width="4" height="4" fill="#ff7f00" stroke="none" shape-rendering="crispEdges"/>
<rect x="428" y="110" width="4" height="4" fill="#ff7f00" stroke="none" shape-rendering="crispEdges"/>
<rect x="470" y="128" width="4" height="4" fill="#ff7f00" stroke="none" shape-rendering="crispEdges"/>
<polyline points="492.2,39.6 570.3,12.6 598.0,12.6"/>
<polyline points="491.7,50.2 572.0,36.0 598.0,36.0"/>
<polyline points="530.2,64.4 572.0,59.9 598.0,59.9"/>
<polyline points="531.0,84.2 598.0,84.2"/>
<polyline points="507.6,102.6 568.7,109.3 598.0,109.3"/>
<polyline points="527.7,126.9 572.0,133.3 598.0,133.3"/>
<rect x="217" y="294" width="4" height="4" fill="#ff7f00" stroke="none" shape-rendering="crispEdges"/>
<polyline points="177.5,256.0 244.5,241.8 260.0,241.8"/>
<polyline points="191.8,265.2 260.0,260.2"/>
<polyline points="194.3,284.4 242.0,278.2 260.0,278.2"/>
<polyline points="218.5,296.6 260.0,296.6"/>
<polyline points="218.5,311.4 247.0,314.3 260.0,314.3"/>
<polyline points="215.2,326.5 253.7,332.7 260.0,332.7"/>
<polyline points="212.7,344.4 250.3,350.3 260.0,350.3"/>
<rect x="521" y="302" width="4" height="4" fill="#ff7f00" stroke="none" shape-rendering="crispEdges"/>
<polyline points="484.5,235.2 564.8,208.4 595.0,208.4"/>
<polyline points="484.5,249.7 564.8,233.4 595.0,233.4"/>
<polyline points="493.0,263.5 564.8,258.2 595.0,258.2"/>
<polyline points="521.4,283.1 595.0,283.1"/>
<polyline points="523.2,304.4 572.9,308.9 595.0,308.9"/>
<polyline points="516.4,325.3 570.4,332.8 595.0,332.8"/>
<circle cx="138.50" cy="446.60" r="2.8" fill="#ff7f00" stroke="none" shape-rendering="crispEdges"/>
<circle cx="115.40" cy="505.90" r="2.8" fill="#ff7f00" stroke="none" shape-rendering="crispEdges"/>
<circle cx="189.00" cy="496.10" r="2.8" fill="#ff7f00" stroke="none" shape-rendering="crispEdges"/>
<circle cx="216.00" cy="479.40" r="2.8" fill="#ff7f00" stroke="none" shape-rendering="crispEdges"/>
<polyline points="172.6,438.2 242.0,423.4 258.0,423.4"/>
<polyline points="179.2,448.5 241.0,442.0 258.0,442.0"/>
<polyline points="189.3,467.8 240.3,460.6 258.0,460.6"/>
<polyline points="216.0,479.0 258.0,479.0"/>
<polyline points="211.9,495.9 238.7,498.1 258.0,498.1"/>
<polyline points="210.2,511.0 247.0,516.9 258.0,516.9"/>
<polyline points="207.7,530.3 243.7,536.1 258.0,536.1"/>
<rect x="456" y="446" width="4" height="4" fill="#ff7f00" stroke="none" shape-rendering="crispEdges"/>
<rect x="494" y="463" width="4" height="4" fill="#ff7f00" stroke="none" shape-rendering="crispEdges"/>
<rect x="516" y="466" width="4" height="4" fill="#ff7f00" stroke="none" shape-rendering="crispEdges"/>
<rect x="422" y="472" width="4" height="4" fill="#ff7f00" stroke="none" shape-rendering="crispEdges"/>
<rect x="461" y="505" width="4" height="4" fill="#ff7f00" stroke="none" shape-rendering="crispEdges"/>
<rect x="499" y="505" width="4" height="4" fill="#ff7f00" stroke="none" shape-rendering="crispEdges"/>
<rect x="427" y="514" width="4" height="4" fill="#ff7f00" stroke="none" shape-rendering="crispEdges"/>
<rect x="466" y="530" width="4" height="4" fill="#ff7f00" stroke="none" shape-rendering="crispEdges"/>
<polyline points="487.8,448.0 559.2,423.0 586.0,423.0"/>
<polyline points="486.7,457.6 558.1,445.3 586.0,445.3"/>
<polyline points="517.9,468.0 586.0,468.0"/>
<polyline points="520.2,489.6 586.0,489.6"/>
<polyline points="501.3,507.2 557.8,512.2 586.0,512.2"/>
<polyline points="517.7,528.2 562.9,534.0 586.0,534.0"/>
<polyline points="513.9,549.1 560.3,556.6 586.0,556.6"/>
</g></svg>
<div class="t b" style="left:259.0px;top:18.0px;font-size:15px;letter-spacing:0px">导体</div>
<div class="t b" style="left:260.0px;top:36.0px;font-size:15px;letter-spacing:0px">绝缘</div>
<div class="t b" style="left:259.0px;top:56.0px;font-size:15px;letter-spacing:0px">屏蔽</div>
<div class="t b" style="left:260.0px;top:73.0px;font-size:15px;letter-spacing:0px">包带</div>
<div class="t b" style="left:259.0px;top:90.0px;font-size:15px;letter-spacing:0px">引流线</div>
<div class="t b" style="left:259.0px;top:108.0px;font-size:15px;letter-spacing:0px">屏蔽</div>
<div class="t b" style="left:260.0px;top:125.0px;font-size:15px;letter-spacing:0px">护套</div>
<div class="t" style="left:600.0px;top:2.0px;font-size:18px;letter-spacing:0.5px">导体</div>
<div class="t" style="left:601.0px;top:25.0px;font-size:18px;letter-spacing:0.5px">绝缘</div>
<div class="t" style="left:600.0px;top:51.0px;font-size:18px;letter-spacing:0.5px">屏蔽</div>
<div class="t" style="left:600.0px;top:75.0px;font-size:18px;letter-spacing:0.5px">包带</div>
<div class="t" style="left:599.0px;top:99.0px;font-size:18px;letter-spacing:0.5px">引流线</div>
<div class="t" style="left:601.0px;top:123.0px;font-size:18px;letter-spacing:0.5px">护套</div>
<div class="t b" style="left:259.0px;top:230.0px;font-size:15px;letter-spacing:0px">导体</div>
<div class="t b" style="left:260.0px;top:248.0px;font-size:15px;letter-spacing:0px">绝缘</div>
<div class="t b" style="left:260.0px;top:267.0px;font-size:15px;letter-spacing:0px">包带</div>
<div class="t b" style="left:259.0px;top:285.0px;font-size:15px;letter-spacing:0px">引流线</div>
<div class="t b" style="left:260.0px;top:302.0px;font-size:15px;letter-spacing:0px">包带</div>
<div class="t b" style="left:259.0px;top:320.0px;font-size:15px;letter-spacing:0px">屏蔽</div>
<div class="t b" style="left:260.0px;top:338.0px;font-size:15px;letter-spacing:0px">护套</div>
<div class="t" style="left:595.0px;top:197.0px;font-size:18px;letter-spacing:1.5px">导体</div>
<div class="t" style="left:596.0px;top:223.0px;font-size:18px;letter-spacing:1.5px">绝缘</div>
<div class="t" style="left:595.0px;top:248.0px;font-size:18px;letter-spacing:1.5px">包带</div>
<div class="t" style="left:595.0px;top:273.0px;font-size:18px;letter-spacing:1.5px">屏蔽</div>
<div class="t" style="left:594.0px;top:298.0px;font-size:18px;letter-spacing:1.5px">引流线</div>
<div class="t" style="left:596.0px;top:322.0px;font-size:18px;letter-spacing:1.5px">护套</div>
<div class="t b" style="left:257.0px;top:411.0px;font-size:15px;letter-spacing:0px">导体</div>
<div class="t b" style="left:258.0px;top:430.0px;font-size:15px;letter-spacing:0px">绝缘</div>
<div class="t b" style="left:257.0px;top:450.0px;font-size:15px;letter-spacing:0px">屏蔽</div>
<div class="t b" style="left:257.0px;top:469.0px;font-size:15px;letter-spacing:0px">引流线</div>
<div class="t b" style="left:258.0px;top:487.0px;font-size:15px;letter-spacing:0px">包带</div>
<div class="t b" style="left:257.0px;top:506.0px;font-size:15px;letter-spacing:0px">屏蔽</div>
<div class="t b" style="left:258.0px;top:525.0px;font-size:15px;letter-spacing:0px">护套</div>
<div class="t b" style="left:587.0px;top:412.0px;font-size:16px;letter-spacing:1px">导体</div>
<div class="t b" style="left:588.0px;top:433.0px;font-size:16px;letter-spacing:1px">绝缘</div>
<div class="t b" style="left:587.0px;top:457.0px;font-size:16px;letter-spacing:1px">屏蔽</div>
<div class="t b" style="left:588.0px;top:479.0px;font-size:16px;letter-spacing:1px">包带</div>
<div class="t b" style="left:587.0px;top:502.0px;font-size:16px;letter-spacing:1px">引流线</div>
<div class="t b" style="left:587.0px;top:524.0px;font-size:16px;letter-spacing:1px">屏蔽</div>
<div class="t b" style="left:588.0px;top:546.0px;font-size:16px;letter-spacing:1px">护套</div>
</body></html>
